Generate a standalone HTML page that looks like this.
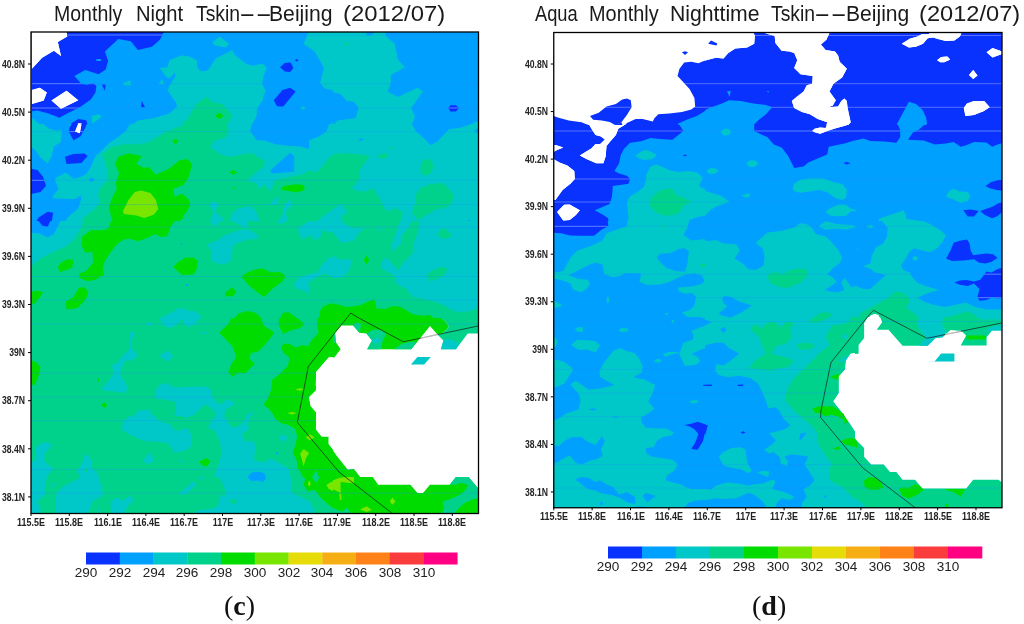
<!DOCTYPE html>
<html><head><meta charset="utf-8"><title>Tskin Beijing</title><style>
html,body{margin:0;padding:0;background:#fff}
#w{position:relative;width:1024px;height:624px;overflow:hidden;background:#fff;font-family:"Liberation Sans",sans-serif;color:#111}
.title{position:absolute;left:0;top:1px;width:1024px;height:26px;font-size:21.5px;line-height:26px;color:#1a1a1a}
.title span{position:absolute;top:0;white-space:nowrap;transform-origin:0 50%}
.xt{position:absolute;width:60px;text-align:center;font-size:10.8px;line-height:12px;font-weight:bold;color:#222;white-space:nowrap;transform:scaleX(0.83);transform-origin:50% 50%}
.yt{position:absolute;width:60px;text-align:right;font-size:10.8px;line-height:12px;font-weight:bold;color:#222;white-space:nowrap;transform:scaleX(0.8);transform-origin:100% 50%}
.bl{position:absolute;width:40px;text-align:center;font-size:12px;line-height:14px;color:#222;transform:scaleX(1.13)}
.cap{position:absolute;font-family:"Liberation Serif",serif;font-weight:bold;font-size:28px;line-height:30px;color:#111;white-space:nowrap}
.cap span{font-weight:normal}
</style></head><body><div id="w">
<svg width="1024" height="624" viewBox="0 0 1024 624" style="position:absolute;left:0;top:0">
<rect width="1024" height="624" fill="#fff"/>
<clipPath id="lf"><rect x="31" y="32" width="447.5" height="481.5"/></clipPath>
<g clip-path="url(#lf)">
<clipPath id="lt0"><rect x="31" y="32" width="152" height="92"/></clipPath>
<g clip-path="url(#lt0)">
<rect x="30" y="31" width="154" height="94" fill="#00a0ff"/>
<polygon points="31.9,31.9 163.8,31.9 159.9,39.8 152.0,46.8 137.9,50.0 130.8,41.3 118.3,39.0 104.9,51.5 108.1,61.0 105.7,69.6 98.6,74.3 85.3,70.1 74.3,75.9 81.4,83.7 86.9,84.8 93.1,82.9 96.3,86.1 95.5,92.4 90.8,99.4 79.8,107.3 67.2,113.6 59.4,117.8 48.4,113.6 37.4,110.4 31.9,111.2" fill="#0a32ff"/>
<polygon points="101.8,84.5 105.7,84.5 104.9,90.8" fill="#0a32ff"/>
<polygon points="141.8,101.0 145.0,107.3 141.0,107.3" fill="#0a32ff"/>
<polygon points="96.3,59.1 101.0,59.1 101.0,61.0 96.3,61.0" fill="#00a0ff"/>
<polygon points="188.0,54.7 181.1,55.5 169.3,60.2 167.7,67.2 159.9,68.0 166.1,76.7 169.3,78.2 174.8,72.7 175.6,75.9 169.3,86.1 167.7,90.8 175.6,101.8 177.1,106.5 169.3,113.6 153.6,118.3 137.9,120.6 128.5,126.9 188.0,126.9" fill="#00c8c8"/>
<polygon points="177.1,126.9 188.0,119.8 188.0,126.9" fill="#00d28c"/>
<polygon points="31.9,118.3 37.4,122.2 40.6,126.9 31.9,126.9" fill="#00c8c8"/>
<polygon points="91.6,115.9 98.6,114.3 101.8,116.7 92.4,123.8" fill="#00c8c8"/>
<polygon points="123.0,82.9 130.0,80.6 131.6,85.3 123.8,85.3" fill="#00c8c8"/>
<polygon points="158.3,83.7 162.2,79.8 164.6,84.8" fill="#00c8c8"/>
<polygon points="69.6,124.5 78.2,119.1 86.1,120.3 88.4,126.9 69.6,126.9" fill="#0a32ff"/>
<polygon points="31.9,31.9 66.5,31.9 67.2,36.6 57.8,42.1 61.0,55.9 53.9,50.8 42.1,57.8 31.9,68.8" fill="#ffffff"/>
<polygon points="31.9,90.0 39.8,87.7 46.8,92.4 43.7,100.5 31.9,104.1" fill="#ffffff"/>
<polygon points="51.5,100.5 66.5,90.8 78.2,100.2 61.0,108.8" fill="#ffffff"/>
<polygon points="77.9,123.4 81.4,123.4 81.4,126.9 77.9,126.9" fill="#ffffff"/>
<g stroke="#1e90ff" stroke-opacity="0.38" stroke-width="0.8"><line x1="30" x2="184" y1="35" y2="35"/><line x1="30" x2="184" y1="83.7" y2="83.7"/><line x1="30" x2="184" y1="108" y2="108"/></g>
<clipPath id="lt0b"><polygon points="31.9,31.9 163.8,31.9 159.9,39.8 152.0,46.8 137.9,50.0 130.8,41.3 118.3,39.0 104.9,51.5 108.1,61.0 105.7,69.6 98.6,74.3 85.3,70.1 74.3,75.9 81.4,83.7 86.9,84.8 93.1,82.9 96.3,86.1 95.5,92.4 90.8,99.4 79.8,107.3 67.2,113.6 59.4,117.8 48.4,113.6 37.4,110.4 31.9,111.2"/><polygon points="101.8,84.5 105.7,84.5 104.9,90.8"/><polygon points="141.8,101.0 145.0,107.3 141.0,107.3"/><polygon points="69.6,124.5 78.2,119.1 86.1,120.3 88.4,126.9 69.6,126.9"/></clipPath>
<g clip-path="url(#lt0b)" stroke="#b4beff" stroke-opacity="0.55" stroke-width="0.8"><line x1="30" x2="184" y1="35" y2="35"/><line x1="30" x2="184" y1="83.7" y2="83.7"/><line x1="30" x2="184" y1="108" y2="108"/></g>
<polygon points="31.9,31.9 66.5,31.9 67.2,36.6 57.8,42.1 61.0,55.9 53.9,50.8 42.1,57.8 31.9,68.8" fill="#ffffff"/>
<polygon points="31.9,90.0 39.8,87.7 46.8,92.4 43.7,100.5 31.9,104.1" fill="#ffffff"/>
<polygon points="51.5,100.5 66.5,90.8 78.2,100.2 61.0,108.8" fill="#ffffff"/>
<polygon points="77.9,123.4 81.4,123.4 81.4,126.9 77.9,126.9" fill="#ffffff"/>
</g>
<clipPath id="lt1"><rect x="183" y="32" width="150" height="92"/></clipPath>
<g clip-path="url(#lt1)">
<rect x="182" y="31" width="152" height="94" fill="#00a0ff"/>
<polygon points="171.7,55.5 189.0,56.3 196.8,60.2 197.6,68.0 201.5,71.6 207.8,70.4 215.7,58.6 228.2,52.3 232.2,49.7 234.5,54.7 245.5,63.3 251.8,65.7 262.8,63.8 266.7,68.0 263.6,75.9 262.0,83.7 265.9,91.6 263.6,94.7 262.8,100.2 257.3,108.1 256.5,115.9 250.2,128.5 171.7,128.5" fill="#00c8c8"/>
<polygon points="212.2,42.9 219.6,36.6 229.0,43.7 225.9,47.6 214.9,45.3" fill="#00c8c8"/>
<polygon points="309.1,31.1 303.6,43.7 314.6,51.5 320.1,61.0 324.0,68.0 320.1,82.9 324.8,88.4 339.7,91.6 339.7,31.1" fill="#00c8c8"/>
<polygon points="327.9,128.5 332.6,122.2 339.7,119.4 339.7,128.5" fill="#00c8c8"/>
<polygon points="300.4,107.3 303.6,106.2 305.9,108.1 302.8,109.9" fill="#00c8c8"/>
<polygon points="180.4,67.2 182.7,66.5 183.5,68.0 181.1,68.8" fill="#00a0ff"/>
<polygon points="280.0,67.2 284.8,62.9 290.7,62.5 293.4,68.0 290.2,72.0 284.8,71.6" fill="#0a32ff"/>
<polygon points="294.5,60.2 297.0,59.1 298.6,60.2 296.5,61.4" fill="#0a32ff"/>
<polygon points="273.8,100.2 282.4,90.0 290.2,87.7 295.7,91.6 283.2,106.5 276.9,106.2" fill="#0a32ff"/>
<polygon points="171.7,128.5 187.4,119.8 195.3,104.9 206.3,97.1 211.8,101.8 222.7,104.6 228.2,109.6 232.2,115.9 225.1,128.5" fill="#00d28c"/>
<polygon points="214.9,115.9 219.6,112.5 223.5,115.9 219.6,119.1" fill="#00dc00"/>
<g stroke="#1e90ff" stroke-opacity="0.38" stroke-width="0.8"><line x1="182" x2="334" y1="35" y2="35"/><line x1="182" x2="334" y1="83.7" y2="83.7"/><line x1="182" x2="334" y1="108" y2="108"/></g>
<clipPath id="lt1b"><polygon points="280.0,67.2 284.8,62.9 290.7,62.5 293.4,68.0 290.2,72.0 284.8,71.6"/><polygon points="294.5,60.2 297.0,59.1 298.6,60.2 296.5,61.4"/><polygon points="273.8,100.2 282.4,90.0 290.2,87.7 295.7,91.6 283.2,106.5 276.9,106.2"/></clipPath>
<g clip-path="url(#lt1b)" stroke="#b4beff" stroke-opacity="0.55" stroke-width="0.8"><line x1="182" x2="334" y1="35" y2="35"/><line x1="182" x2="334" y1="83.7" y2="83.7"/><line x1="182" x2="334" y1="108" y2="108"/></g>
</g>
<clipPath id="lt2"><rect x="333" y="32" width="146" height="92"/></clipPath>
<g clip-path="url(#lt2)">
<rect x="332" y="31" width="148" height="94" fill="#00a0ff"/>
<polygon points="321.7,31.1 385.3,31.1 385.3,35.8 394.7,43.7 397.9,59.4 404.9,67.2 390.8,75.1 390.8,83.7 387.7,91.6 397.9,97.1 417.5,87.7 423.0,91.6 411.2,108.1 415.1,116.7 409.6,128.5 331.1,128.5 337.4,120.6 355.5,118.3 358.6,108.1 353.9,101.8 346.8,101.0 340.6,93.9 321.7,90.0" fill="#00c8c8"/>
<polygon points="364.9,31.1 375.1,31.1 372.0,35.1 367.2,35.8" fill="#00a0ff"/>
<polygon points="344.5,43.7 346.8,42.1 349.2,43.7 346.8,45.6" fill="#00d28c"/>
<polygon points="448.1,108.1 450.4,105.2 455.9,105.2 459.1,108.1 455.9,111.5 450.4,111.5" fill="#0a32ff"/>
<polygon points="469.3,128.5 474.0,122.2 479.5,121.4 479.5,128.5" fill="#00c8c8"/>
<g stroke="#1e90ff" stroke-opacity="0.38" stroke-width="0.8"><line x1="332" x2="480" y1="35" y2="35"/><line x1="332" x2="480" y1="83.7" y2="83.7"/><line x1="332" x2="480" y1="108" y2="108"/></g>
<clipPath id="lt2b"><polygon points="448.1,108.1 450.4,105.2 455.9,105.2 459.1,108.1 455.9,111.5 450.4,111.5"/></clipPath>
<g clip-path="url(#lt2b)" stroke="#b4beff" stroke-opacity="0.55" stroke-width="0.8"><line x1="332" x2="480" y1="35" y2="35"/><line x1="332" x2="480" y1="83.7" y2="83.7"/><line x1="332" x2="480" y1="108" y2="108"/></g>
</g>
<clipPath id="lt3"><rect x="31" y="124" width="152" height="97"/></clipPath>
<g clip-path="url(#lt3)">
<rect x="30" y="123" width="154" height="99" fill="#00a0ff"/>
<polygon points="29.6,121.4 40.6,121.4 48.4,128.5 56.3,130.8 61.8,130.1 61.0,141.8 53.9,146.5 51.5,156.8 47.6,163.5 39.8,156.8 35.1,149.7 29.6,146.5" fill="#00c8c8"/>
<polygon points="131.6,121.4 126.1,130.8 115.9,138.7 109.6,142.6 101.8,150.5 95.5,156.0 90.8,167.0 86.1,174.0 79.8,177.2 73.5,178.7 65.7,172.5 54.7,178.7 58.6,188.9 52.3,196.8 53.9,198.4 75.1,199.1 80.6,195.2 81.4,198.4 78.2,208.6 68.0,217.2 64.1,223.5 189.7,223.5 189.7,121.4" fill="#00c8c8"/>
<polygon points="88.4,179.8 91.6,177.2 94.7,179.8 91.6,182.3" fill="#00a0ff"/>
<polygon points="29.6,168.5 37.4,170.1 42.9,176.4 46.1,185.8 40.6,192.1 29.6,194.4" fill="#0a32ff"/>
<polygon points="64.9,156.8 73.5,154.1 84.5,153.6 87.7,156.0 81.4,163.0 66.5,164.1" fill="#0a32ff"/>
<polygon points="69.6,127.7 73.5,121.4 87.7,121.4 85.3,127.7 80.6,136.3 73.5,140.6 68.8,131.6" fill="#0a32ff"/>
<polygon points="34.3,223.5 39.0,217.2 47.6,211.7 53.1,212.8 51.5,223.5" fill="#0a32ff"/>
<polygon points="189.7,123.0 178.7,126.9 166.1,131.6 155.9,137.9 148.9,142.6 137.9,144.2 123.8,144.2 112.8,146.5 101.8,154.4 105.7,163.8 107.3,170.1 106.5,181.1 100.2,188.1 97.9,194.4 100.2,201.5 93.9,210.1 84.5,217.2 79.8,223.5 189.7,223.5" fill="#00d28c"/>
<polygon points="118.3,156.8 128.5,153.6 141.8,156.0 136.3,164.1 143.4,167.7 148.9,167.0 155.9,174.8 169.3,168.5 178.7,160.7 189.7,159.1 189.7,185.0 181.1,185.8 173.2,188.9 174.8,196.8 181.8,193.6 189.7,199.9 189.7,211.7 177.1,223.5 113.6,223.5 111.2,217.2 108.8,206.2 112.8,196.8 116.7,188.9 115.9,182.7 119.1,173.2 115.1,163.8" fill="#00dc00"/>
<polygon points="172.4,140.3 175.6,138.7 177.9,140.6 175.6,145.0" fill="#00dc00"/>
<polygon points="128.5,199.9 134.8,192.1 141.0,190.5 150.4,192.9 155.9,199.9 158.3,209.3 153.6,214.8 144.2,218.0 136.3,215.6 123.8,214.1 123.0,210.9" fill="#78e600"/>
<polygon points="75.1,131.6 78.2,123.8 81.4,124.6 79.8,133.2" fill="#ffffff"/>
<g stroke="#1e90ff" stroke-opacity="0.38" stroke-width="0.8"><line x1="30" x2="184" y1="131.6" y2="131.6"/><line x1="30" x2="184" y1="180.3" y2="180.3"/><line x1="30" x2="184" y1="204.6" y2="204.6"/></g>
<clipPath id="lt3b"><polygon points="29.6,168.5 37.4,170.1 42.9,176.4 46.1,185.8 40.6,192.1 29.6,194.4"/><polygon points="64.9,156.8 73.5,154.1 84.5,153.6 87.7,156.0 81.4,163.0 66.5,164.1"/><polygon points="69.6,127.7 73.5,121.4 87.7,121.4 85.3,127.7 80.6,136.3 73.5,140.6 68.8,131.6"/><polygon points="34.3,223.5 39.0,217.2 47.6,211.7 53.1,212.8 51.5,223.5"/></clipPath>
<g clip-path="url(#lt3b)" stroke="#b4beff" stroke-opacity="0.55" stroke-width="0.8"><line x1="30" x2="184" y1="131.6" y2="131.6"/><line x1="30" x2="184" y1="180.3" y2="180.3"/><line x1="30" x2="184" y1="204.6" y2="204.6"/></g>
<polygon points="75.1,131.6 78.2,123.8 81.4,124.6 79.8,133.2" fill="#ffffff"/>
</g>
<clipPath id="lt4"><rect x="183" y="124" width="150" height="97"/></clipPath>
<g clip-path="url(#lt4)">
<rect x="182" y="123" width="152" height="99" fill="#00d28c"/>
<polygon points="225.9,121.4 229.0,131.6 225.1,137.9 214.9,140.3 210.2,147.3 222.0,155.2 229.8,156.8 240.8,154.4 251.8,153.1 259.6,158.3 265.1,160.7 263.6,167.0 254.9,173.2 247.1,180.3 256.5,183.4 259.6,188.9 264.3,184.2 270.6,191.3 274.5,180.3 287.9,177.2 302.0,174.8 309.9,170.1 316.1,172.5 322.4,166.2 329.5,156.8 339.7,152.8 339.7,121.4" fill="#00c8c8"/>
<polygon points="251.8,121.4 250.2,131.6 256.5,140.3 264.3,140.6 275.3,144.2 287.9,145.8 300.4,146.5 309.1,148.9 309.1,140.3 319.3,136.3 326.4,131.6 330.3,121.4" fill="#00a0ff"/>
<polygon points="269.8,170.9 278.5,163.0 290.2,152.8 294.2,156.0 294.2,171.7 272.2,173.5" fill="#00a0ff"/>
<polygon points="208.6,223.5 214.1,212.8 209.4,204.6 214.1,201.5 218.8,204.6 214.9,210.9 222.0,217.2 226.7,223.5" fill="#00c8c8"/>
<polygon points="229.0,223.5 231.4,214.1 237.7,208.6 245.5,207.0 251.8,206.2 256.5,212.5 259.6,220.3 261.2,223.5" fill="#00c8c8"/>
<polygon points="269.8,204.6 276.9,196.0 278.5,197.6 276.9,204.6" fill="#00c8c8"/>
<polygon points="276.1,223.5 282.4,215.6 284.8,204.6 290.2,199.1 291.8,204.6 285.5,212.5 287.9,218.8 289.5,223.5" fill="#00c8c8"/>
<polygon points="314.6,223.5 325.6,214.1 339.7,205.4 339.7,223.5" fill="#00c8c8"/>
<polygon points="176.4,161.5 182.7,159.1 188.2,159.4 192.1,164.6 189.8,173.2 187.4,180.3 182.7,185.0 176.4,186.6" fill="#00dc00"/>
<polygon points="176.4,196.0 181.9,193.6 188.2,199.1 190.2,204.6 187.4,210.9 182.7,216.4 176.4,218.8" fill="#00dc00"/>
<polygon points="229.5,172.5 232.9,170.1 237.3,172.5 232.9,174.8" fill="#00dc00"/>
<polygon points="231.4,188.1 236.1,187.4 233.7,189.2" fill="#00dc00"/>
<polygon points="280.8,188.1 284.8,185.8 294.2,184.5 302.0,184.5 305.2,188.1 302.8,190.5 296.5,192.4 287.9,190.8 282.4,190.2" fill="#00dc00"/>
<g stroke="#1e90ff" stroke-opacity="0.38" stroke-width="0.8"><line x1="182" x2="334" y1="131.6" y2="131.6"/><line x1="182" x2="334" y1="180.3" y2="180.3"/><line x1="182" x2="334" y1="204.6" y2="204.6"/></g>
</g>
<clipPath id="lt5"><rect x="333" y="124" width="146" height="97"/></clipPath>
<g clip-path="url(#lt5)">
<rect x="332" y="123" width="148" height="99" fill="#00c8c8"/>
<polygon points="410.4,121.4 415.9,131.6 423.8,137.9 430.8,145.3 437.9,141.1 445.0,133.2 448.9,129.3 459.9,127.7 470.1,124.6 473.2,121.4" fill="#00a0ff"/>
<polygon points="474.0,130.8 478.7,127.7 478.7,134.0" fill="#00a0ff"/>
<polygon points="358.6,139.5 361.0,137.9 363.8,139.5 361.0,141.1" fill="#00a0ff"/>
<polygon points="326.4,156.8 332.7,153.6 348.4,153.6 362.5,154.4 370.1,156.0 364.1,163.8 358.6,171.7 360.2,179.5 351.5,188.1 357.8,191.3 367.2,191.3 372.7,188.1 378.2,196.0 382.2,203.8 386.1,210.9 397.1,208.6 403.0,212.5 401.0,223.5 340.6,223.5 342.1,215.6 347.6,212.5 341.3,203.8 335.1,207.8 326.4,208.6" fill="#00d28c"/>
<polygon points="375.1,156.0 386.1,152.8 387.7,156.8 383.7,159.1" fill="#00d28c"/>
<polygon points="390.0,147.8 392.1,146.2 393.6,148.1 391.6,150.0" fill="#00d28c"/>
<polygon points="420.6,166.2 423.0,159.9 428.5,158.8 432.4,162.2 433.2,167.7 430.8,173.2 425.3,175.6 420.6,172.9" fill="#00d28c"/>
<polygon points="415.1,195.2 420.6,188.1 430.0,184.2 443.4,183.0 448.9,188.9 454.4,196.0 450.4,205.4 443.4,208.6 436.3,209.3 428.5,214.1 417.5,220.3 412.0,212.5 415.1,203.1" fill="#00d28c"/>
<polygon points="466.9,221.0 469.3,219.5 470.9,221.9" fill="#00a0ff"/>
<g stroke="#1e90ff" stroke-opacity="0.38" stroke-width="0.8"><line x1="332" x2="480" y1="131.6" y2="131.6"/><line x1="332" x2="480" y1="180.3" y2="180.3"/><line x1="332" x2="480" y1="204.6" y2="204.6"/></g>
</g>
<clipPath id="lt6"><rect x="31" y="221" width="152" height="97"/></clipPath>
<g clip-path="url(#lt6)">
<rect x="30" y="220" width="154" height="99" fill="#00d28c"/>
<polygon points="29.6,218.4 84.5,218.4 79.8,229.4 73.5,240.4 65.7,246.7 56.3,250.6 45.3,256.1 37.4,260.8 29.6,267.1" fill="#00c8c8"/>
<polygon points="29.6,218.4 61.8,218.4 58.6,224.7 53.9,234.1 47.6,237.3 39.0,233.3 29.6,232.6" fill="#00a0ff"/>
<polygon points="36.6,218.4 51.5,218.4 47.6,227.1 42.1,225.5" fill="#0a32ff"/>
<polygon points="112.0,218.4 108.1,228.6 103.4,230.2 90.8,230.2 82.2,236.5 81.4,245.1 85.3,253.0 92.4,251.4 93.1,262.4 86.1,271.0 79.0,273.4 79.8,278.1 87.7,281.2 95.5,279.7 104.1,274.9 102.6,268.7 104.9,260.8 111.2,251.4 117.5,243.5 123.8,239.6 130.0,238.8 137.9,241.2 147.3,238.1 155.2,234.1 161.4,237.3 167.7,235.7 170.1,227.8 176.4,218.4" fill="#00dc00"/>
<polygon points="57.8,267.1 61.0,262.4 67.2,259.2 73.5,260.0 72.0,267.9 60.2,272.1" fill="#00dc00"/>
<polygon points="65.7,301.6 73.5,296.9 79.0,287.5 85.3,287.5 88.4,293.0 85.3,300.1 77.5,307.9 66.5,309.5" fill="#00dc00"/>
<polygon points="29.6,292.2 36.6,290.6 42.9,292.2 39.8,297.7 34.3,304.0 29.6,302.4" fill="#00dc00"/>
<polygon points="173.2,267.1 179.5,260.8 189.7,256.9 189.7,275.7 181.8,274.9" fill="#00dc00"/>
<polygon points="159.1,320.5 164.6,315.8 171.6,312.6 177.1,308.7 185.0,307.9 189.7,310.3 189.7,320.5" fill="#00c8c8"/>
<polygon points="180.0,244.3 181.8,243.2 182.6,245.1" fill="#00a0ff"/>
<polygon points="185.0,284.4 188.9,283.6 188.9,285.9" fill="#00c8c8"/>
<g stroke="#1e90ff" stroke-opacity="0.38" stroke-width="0.8"><line x1="30" x2="184" y1="227" y2="227"/><line x1="30" x2="184" y1="276.5" y2="276.5"/><line x1="30" x2="184" y1="300" y2="300"/></g>
<clipPath id="lt6b"><polygon points="36.6,218.4 51.5,218.4 47.6,227.1 42.1,225.5"/></clipPath>
<g clip-path="url(#lt6b)" stroke="#b4beff" stroke-opacity="0.55" stroke-width="0.8"><line x1="30" x2="184" y1="227" y2="227"/><line x1="30" x2="184" y1="276.5" y2="276.5"/><line x1="30" x2="184" y1="300" y2="300"/></g>
</g>
<clipPath id="lt7"><rect x="183" y="221" width="150" height="97"/></clipPath>
<g clip-path="url(#lt7)">
<rect x="182" y="220" width="152" height="99" fill="#00d28c"/>
<polygon points="208.6,218.4 224.3,218.4 214.1,227.1" fill="#00c8c8"/>
<polygon points="229.0,218.4 248.6,218.4 246.3,228.6 237.7,223.9" fill="#00c8c8"/>
<polygon points="254.9,218.4 260.4,218.4 258.1,222.4" fill="#00c8c8"/>
<polygon points="275.3,218.4 288.7,218.4 283.2,223.9 277.7,222.8" fill="#00c8c8"/>
<polygon points="207.0,244.3 217.2,240.4 225.1,234.9 240.8,229.4 248.6,229.4 258.1,234.9 258.1,238.8 247.1,239.6 232.9,245.1 232.2,253.8 230.6,261.6 223.5,264.7 217.2,263.2 211.0,260.0 211.8,252.2" fill="#00c8c8"/>
<polygon points="298.1,228.6 303.6,224.7 312.2,218.4 339.7,218.4 339.7,238.1 332.6,232.6 325.6,231.8 321.6,228.6 320.9,235.7 316.1,240.4 309.9,234.9 302.8,239.6 298.9,234.1" fill="#00c8c8"/>
<polygon points="293.4,285.1 298.9,278.1 308.3,274.2 316.9,272.6 323.2,263.2 329.5,256.9 335.0,256.9 339.7,260.8 339.7,278.1 332.6,276.5 324.0,273.4 317.7,276.5 308.3,282.8 309.9,293.5 303.6,290.6 297.3,289.1" fill="#00c8c8"/>
<polygon points="176.4,307.9 182.7,307.9 189.0,311.1 195.3,311.1 201.5,317.3 203.1,320.5 176.4,320.5" fill="#00c8c8"/>
<polygon points="176.4,261.6 184.3,257.7 193.7,257.4 197.6,260.8 196.8,268.7 193.7,274.2 182.7,275.3 176.4,273.4" fill="#00dc00"/>
<polygon points="241.6,276.5 247.1,272.6 254.9,269.5 263.6,268.4 270.6,272.6 278.5,271.8 284.0,274.2 285.5,277.3 281.6,282.0 272.2,289.1 264.3,296.9 258.1,293.0 247.9,284.4" fill="#00dc00"/>
<polygon points="224.8,293.0 232.2,287.2 236.4,292.2 232.9,296.1 225.9,296.6" fill="#00dc00"/>
<polygon points="232.9,320.5 238.4,313.4 247.1,311.1 254.9,312.6 260.4,316.5 261.2,320.5" fill="#00dc00"/>
<polygon points="278.5,320.5 283.2,312.6 289.5,312.6 295.7,317.3 297.3,320.5" fill="#00dc00"/>
<polygon points="318.5,320.5 320.1,311.1 323.2,306.3 331.1,303.2 339.7,304.0 339.7,320.5" fill="#00dc00"/>
<polygon points="179.9,244.3 181.5,243.2 182.4,244.8 180.8,245.9" fill="#00a0ff"/>
<polygon points="185.1,284.7 187.4,283.6 188.7,285.1 186.6,286.2" fill="#00a0ff"/>
<g stroke="#1e90ff" stroke-opacity="0.38" stroke-width="0.8"><line x1="182" x2="334" y1="227" y2="227"/><line x1="182" x2="334" y1="276.5" y2="276.5"/><line x1="182" x2="334" y1="300" y2="300"/></g>
</g>
<clipPath id="lt8"><rect x="333" y="221" width="146" height="97"/></clipPath>
<g clip-path="url(#lt8)">
<rect x="332" y="220" width="148" height="99" fill="#00d28c"/>
<polygon points="419.1,218.4 418.3,231.0 413.6,243.5 414.3,251.4 403.4,262.4 398.6,270.2 386.1,256.9 381.4,262.4 381.4,268.7 392.4,274.2 395.5,278.1 396.3,283.6 406.5,289.1 412.8,296.9 422.2,298.5 434.8,301.6 444.2,305.6 453.6,311.1 461.4,312.6 472.4,310.3 479.5,307.9 479.5,218.4" fill="#00c8c8"/>
<polygon points="401.0,218.4 397.1,229.4 391.6,245.1 390.8,253.0 396.3,247.5 401.8,243.5 401.0,236.5 408.1,228.6 413.6,218.4" fill="#00c8c8"/>
<polygon points="326.4,218.4 340.6,218.4 345.3,224.7 353.9,228.6 364.1,227.8 359.4,232.6 353.9,240.4 341.3,243.2 334.3,234.1 326.4,234.1" fill="#00c8c8"/>
<polygon points="326.4,256.9 334.3,256.4 341.3,260.0 347.6,258.5 352.3,261.6 348.4,271.8 342.1,277.3 334.3,278.1 326.4,274.2" fill="#00c8c8"/>
<polygon points="377.9,227.8 380.6,227.8 379.5,235.7" fill="#00c8c8"/>
<polygon points="437.1,234.9 442.6,227.5 448.1,231.0 452.0,235.7 444.2,239.6" fill="#00d28c"/>
<polygon points="426.1,275.7 432.4,270.2 443.4,266.3 447.3,269.5 442.6,276.5 430.8,281.2" fill="#00d28c"/>
<polygon points="363.8,260.0 366.5,255.3 369.3,260.0 366.5,264.3" fill="#00dc00"/>
<polygon points="326.4,305.6 335.8,304.0 346.8,307.1 359.4,305.6 373.5,299.3 375.1,301.6 376.7,308.7 386.1,308.7 392.4,306.0 400.2,306.7 412.8,314.2 422.2,315.8 430.0,315.0 436.3,320.5 326.4,320.5" fill="#00dc00"/>
<polygon points="467.7,220.8 469.3,220.0 470.1,221.6" fill="#00a0ff"/>
<g stroke="#1e90ff" stroke-opacity="0.38" stroke-width="0.8"><line x1="332" x2="480" y1="227" y2="227"/><line x1="332" x2="480" y1="276.5" y2="276.5"/><line x1="332" x2="480" y1="300" y2="300"/></g>
</g>
<clipPath id="lt9"><rect x="31" y="318" width="152" height="98"/></clipPath>
<g clip-path="url(#lt9)">
<rect x="30" y="317" width="154" height="100" fill="#00d28c"/>
<polygon points="158.3,315.4 162.2,324.1 169.3,328.8 177.1,324.1 182.6,319.4 186.6,325.6 189.7,326.4 189.7,315.4" fill="#00c8c8"/>
<polygon points="146.5,324.1 149.2,321.4 152.0,324.1 149.2,326.4" fill="#00c8c8"/>
<polygon points="129.3,332.7 135.5,331.9 131.6,339.8 130.8,348.4 136.3,352.3 137.1,356.2 133.2,359.4 123.8,361.7 120.6,371.2 119.8,373.5 125.3,382.9 128.5,389.2 123.8,393.1 115.9,391.6 106.5,390.8 101.0,389.2 106.5,382.9 113.6,374.3 112.0,365.7 118.3,361.7 122.2,356.2 128.5,350.0 130.0,340.5" fill="#00c8c8"/>
<polygon points="159.6,355.9 166.9,350.3 173.2,356.2 167.7,361.7" fill="#00c8c8"/>
<polygon points="155.2,390.8 159.9,384.5 166.1,382.9 174.8,387.6 182.6,386.9 189.7,389.2 189.7,417.5 174.0,417.5 176.4,408.1 174.8,401.8 164.6,399.4 155.9,398.6" fill="#00c8c8"/>
<polygon points="132.4,417.5 137.9,410.4 148.9,409.6 153.6,415.9 155.2,417.5" fill="#00c8c8"/>
<polygon points="29.6,360.2 35.8,361.7 40.6,367.2 39.0,375.1 35.1,384.5 29.6,385.3" fill="#00dc00"/>
<polygon points="96.6,379.8 98.3,378.5 99.4,381.1 97.5,382.1" fill="#00dc00"/>
<polygon points="101.0,404.9 104.6,402.1 107.3,405.2 104.6,408.1" fill="#00dc00"/>
<polygon points="90.5,316.2 93.1,316.2 91.9,320.1" fill="#00c8c8"/>
<g stroke="#1e90ff" stroke-opacity="0.38" stroke-width="0.8"><line x1="30" x2="184" y1="324" y2="324"/><line x1="30" x2="184" y1="373.2" y2="373.2"/><line x1="30" x2="184" y1="397" y2="397"/></g>
</g>
<clipPath id="lt10"><rect x="183" y="318" width="150" height="68"/></clipPath>
<g clip-path="url(#lt10)">
<rect x="182" y="317" width="152" height="70" fill="#00d28c"/>
<polygon points="176.4,315.4 202.3,315.4 195.3,324.1 188.2,327.2 182.7,321.7 176.4,323.3" fill="#00c8c8"/>
<polygon points="200.0,332.4 207.0,331.9 207.0,333.5 200.0,333.5" fill="#00c8c8"/>
<polygon points="176.4,388.4 185.8,386.9 198.4,386.9 209.4,388.4 211.8,392.4 211.0,397.8 219.6,405.7 228.2,398.6 232.9,400.2 236.1,405.7 225.1,410.4 222.7,417.5 176.4,417.5" fill="#00c8c8"/>
<polygon points="192.9,417.5 201.5,406.5 208.6,404.1 214.9,410.4 218.0,417.5" fill="#00d28c"/>
<polygon points="245.5,417.5 251.0,412.0 254.9,417.5" fill="#00c8c8"/>
<polygon points="232.9,315.4 228.2,324.1 219.1,332.7 232.2,346.0 236.1,357.0 231.4,364.1 228.2,371.9 232.2,376.7 238.4,372.7 245.5,373.5 251.0,367.2 254.9,364.1 249.4,358.6 251.0,353.1 258.1,351.5 265.9,343.7 274.5,332.7 263.6,325.6 260.4,315.4" fill="#00dc00"/>
<polygon points="279.3,315.4 278.5,324.8 283.2,334.0 291.0,330.3 300.4,328.0 304.4,324.1 298.9,319.4 295.0,315.4" fill="#00dc00"/>
<polygon points="317.7,315.4 316.9,324.8 318.5,332.7 311.4,340.5 308.3,346.0 302.0,345.3 295.7,347.6 289.5,343.7 283.2,343.7 280.8,348.4 284.8,353.9 289.5,357.8 287.9,365.7 278.5,375.1 272.2,379.8 271.4,389.2 268.3,397.1 263.6,404.9 267.5,409.6 272.2,412.8 273.8,417.5 339.7,417.5 339.7,315.4" fill="#00dc00"/>
<polygon points="295.4,389.2 298.9,388.0 304.4,388.9 299.7,390.5" fill="#78e600"/>
<polygon points="287.9,412.4 292.6,411.5 297.3,412.4 292.6,413.7" fill="#78e600"/>
<polygon points="339.7,329.6 335.8,332.7 335.8,340.5 339.7,343.7" fill="#ffffff"/>
<polygon points="339.7,357.0 328.7,357.5 316.1,371.9 315.8,388.4 309.1,397.1 310.7,404.9 316.1,412.8 316.1,417.5 339.7,417.5" fill="#ffffff"/>
<g stroke="#1e90ff" stroke-opacity="0.38" stroke-width="0.8"><line x1="182" x2="334" y1="324" y2="324"/><line x1="182" x2="334" y1="373.2" y2="373.2"/></g>
<polygon points="339.7,329.6 335.8,332.7 335.8,340.5 339.7,343.7" fill="#ffffff"/>
<polygon points="339.7,357.0 328.7,357.5 316.1,371.9 315.8,388.4 309.1,397.1 310.7,404.9 316.1,412.8 316.1,417.5 339.7,417.5" fill="#ffffff"/>
</g>
<clipPath id="lt11"><rect x="333" y="318" width="146" height="98"/></clipPath>
<g clip-path="url(#lt11)">
<rect x="332" y="317" width="148" height="100" fill="#ffffff"/>
<polygon points="326.4,315.4 437.9,315.4 445.7,321.7 448.9,326.4 444.2,331.9 437.9,335.1 430.0,326.1 422.2,335.8 411.2,349.2 367.2,349.2 372.0,340.5 366.5,333.5 359.4,332.7 353.1,325.6 341.3,325.6 335.1,332.7 335.8,342.1 340.6,349.2 334.3,357.5 326.4,357.5" fill="#00dc00"/>
<polygon points="436.3,315.4 445.7,321.7 448.9,326.4 444.2,331.9 437.9,335.1 443.4,340.5 441.0,349.2 455.9,349.2 467.7,333.5 479.5,333.5 479.5,315.4" fill="#00d28c"/>
<polygon points="443.4,340.5 447.3,339.0 453.6,340.5 459.1,343.7 455.9,349.2 441.0,349.2" fill="#00c8c8"/>
<polygon points="367.2,349.2 372.0,340.5 366.5,333.5 373.5,329.6 381.4,330.3 386.1,334.3 382.9,340.5 380.6,349.2" fill="#00d28c"/>
<polygon points="372.0,340.5 375.1,337.4 379.8,339.0 378.2,342.9 373.5,343.7" fill="#00c8c8"/>
<polygon points="393.9,349.2 401.8,343.7 409.6,342.1 416.7,342.1 411.2,349.2" fill="#00d28c"/>
<polygon points="353.1,325.6 355.5,322.5 360.2,323.3 361.0,326.4 359.4,332.7" fill="#00d28c"/>
<polygon points="410.9,364.6 417.5,357.0 430.8,357.0 424.1,364.6" fill="#00c8c8"/>
<polygon points="326.4,340.5 335.1,333.5 335.8,342.1 332.7,343.7 326.4,342.9" fill="#00d28c"/>
<clipPath id="lt11c"><polygon points="326.4,315.4 437.9,315.4 445.7,321.7 448.9,326.4 444.2,331.9 437.9,335.1 430.0,326.1 422.2,335.8 411.2,349.2 367.2,349.2 372.0,340.5 366.5,333.5 359.4,332.7 353.1,325.6 341.3,325.6 335.1,332.7 335.8,342.1 340.6,349.2 334.3,357.5 326.4,357.5"/><polygon points="436.3,315.4 445.7,321.7 448.9,326.4 444.2,331.9 437.9,335.1 443.4,340.5 441.0,349.2 455.9,349.2 467.7,333.5 479.5,333.5 479.5,315.4"/><polygon points="443.4,340.5 447.3,339.0 453.6,340.5 459.1,343.7 455.9,349.2 441.0,349.2"/><polygon points="367.2,349.2 372.0,340.5 366.5,333.5 373.5,329.6 381.4,330.3 386.1,334.3 382.9,340.5 380.6,349.2"/><polygon points="372.0,340.5 375.1,337.4 379.8,339.0 378.2,342.9 373.5,343.7"/><polygon points="393.9,349.2 401.8,343.7 409.6,342.1 416.7,342.1 411.2,349.2"/><polygon points="353.1,325.6 355.5,322.5 360.2,323.3 361.0,326.4 359.4,332.7"/><polygon points="410.9,364.6 417.5,357.0 430.8,357.0 424.1,364.6"/><polygon points="326.4,340.5 335.1,333.5 335.8,342.1 332.7,343.7 326.4,342.9"/></clipPath>
<g clip-path="url(#lt11c)" stroke="#1e90ff" stroke-opacity="0.38" stroke-width="0.8"><line x1="332" x2="480" y1="324" y2="324"/><line x1="332" x2="480" y1="373.2" y2="373.2"/><line x1="332" x2="480" y1="397" y2="397"/></g>
</g>
<clipPath id="lt12"><rect x="31" y="416" width="152" height="97.5"/></clipPath>
<g clip-path="url(#lt12)">
<rect x="30" y="415" width="154" height="99.5" fill="#00d28c"/>
<polygon points="130.8,414.4 123.0,422.3 121.4,429.3 130.0,434.8 144.2,441.1 158.3,441.9 167.7,442.7 174.8,452.9 189.7,449.0 189.7,427.8 175.6,430.9 169.3,423.8 158.3,420.7 153.6,414.4" fill="#00c8c8"/>
<polygon points="178.7,414.4 189.7,414.4 189.7,417.6 183.4,417.3" fill="#00c8c8"/>
<polygon points="29.6,463.1 35.1,460.0 35.8,447.4 42.1,442.7 46.8,441.9 52.3,445.0 44.5,453.7 44.5,461.5 53.1,468.6 46.8,476.4 44.5,489.8 45.3,494.5 37.4,501.6 41.3,510.2 37.4,514.9 29.6,514.9" fill="#00c8c8"/>
<polygon points="85.3,452.9 92.4,460.7 91.6,468.6 97.1,471.7 100.2,481.9 102.6,491.4 102.6,496.1 92.4,501.6 87.7,514.1 56.3,514.1 55.5,499.2 57.0,491.4 65.7,485.1 79.8,478.0 77.5,470.2 82.2,463.1" fill="#00c8c8"/>
<polygon points="83.7,469.4 86.1,467.5 88.9,469.4 86.4,472.2" fill="#00d28c"/>
<polygon points="111.2,514.9 110.4,501.6 117.5,497.6 123.0,500.8 130.0,495.3 134.8,501.6 130.0,503.1 125.3,510.2 126.9,514.9" fill="#00c8c8"/>
<polygon points="142.6,461.5 149.7,452.1 154.4,460.7 148.9,463.9" fill="#00c8c8"/>
<polygon points="51.2,485.1 53.1,482.7 54.7,485.1 53.1,487.4" fill="#00c8c8"/>
<polygon points="179.5,460.7 181.5,459.2 183.1,461.2 181.1,462.8" fill="#00c8c8"/>
<polygon points="97.1,508.6 99.4,507.8 99.4,511.8 97.1,511.8" fill="#00c8c8"/>
<polygon points="179.5,492.9 189.7,488.2 189.7,494.5 182.6,495.3" fill="#00c8c8"/>
<g stroke="#1e90ff" stroke-opacity="0.38" stroke-width="0.8"><line x1="30" x2="184" y1="420.7" y2="420.7"/><line x1="30" x2="184" y1="469.4" y2="469.4"/><line x1="30" x2="184" y1="493.2" y2="493.2"/></g>
</g>
<clipPath id="lt13"><rect x="183" y="386" width="150" height="84"/></clipPath>
<g clip-path="url(#lt13)">
<rect x="182" y="385" width="152" height="86" fill="#00d28c"/>
<polygon points="176.4,387.1 206.3,386.6 211.0,389.4 211.0,395.7 219.6,405.1 228.2,398.8 235.3,404.3 225.1,409.8 224.3,416.1 229.8,425.5 233.7,427.9 240.8,424.7 245.5,419.2 247.1,413.8 254.1,412.2 248.6,419.2 247.1,425.5 249.4,428.7 241.6,434.2 245.5,442.0 251.8,440.4 255.7,444.4 254.9,452.2 254.1,460.1 262.8,462.4 270.6,458.5 278.5,462.4 287.9,467.9 291.0,480.5 215.7,480.5 217.2,469.5 222.0,452.2 219.6,441.2 215.7,431.8 207.8,427.1 216.5,413.8 212.5,409.0 205.5,404.3 198.4,410.6 193.7,415.3 185.8,417.7 176.4,416.4" fill="#00c8c8"/>
<polygon points="176.4,428.7 184.3,427.9 189.0,429.5 192.1,438.1 191.3,445.9 185.8,450.6 176.4,452.2" fill="#00c8c8"/>
<polygon points="278.5,437.3 283.5,434.2 287.6,438.1 283.5,442.5" fill="#00c8c8"/>
<polygon points="179.9,460.8 181.5,459.3 182.7,461.3 181.1,462.4" fill="#00a0ff"/>
<polygon points="275.6,453.0 277.2,451.4 278.5,453.5 276.9,455.0" fill="#00a0ff"/>
<polygon points="247.1,477.3 251.0,472.6 259.6,471.8 264.3,473.4 265.1,480.5 247.1,480.5" fill="#00a0ff"/>
<polygon points="199.2,461.6 206.3,458.2 210.5,460.8 207.0,466.7 201.5,464.8" fill="#00dc00"/>
<polygon points="272.2,378.4 271.4,389.4 268.3,397.3 263.6,405.1 268.3,408.3 272.2,413.0 276.1,420.0 281.6,423.2 287.9,424.7 295.0,428.7 297.3,436.5 295.7,444.4 292.6,452.2 297.3,461.6 298.1,469.5 302.0,474.2 303.6,480.5 339.7,480.5 339.7,378.4" fill="#00dc00"/>
<polygon points="312.2,480.5 315.4,470.7 319.3,480.5" fill="#00d28c"/>
<polygon points="295.0,389.4 299.7,388.2 304.8,389.1 300.1,390.7" fill="#78e600"/>
<polygon points="287.1,413.0 291.8,412.0 297.0,413.0 292.3,414.5" fill="#78e600"/>
<polygon points="305.9,437.3 309.9,434.2 314.6,437.3 309.9,440.4" fill="#78e600"/>
<polygon points="300.1,453.8 303.6,449.1 309.1,453.0 305.9,458.5 303.6,466.3 302.0,460.1" fill="#78e600"/>
<polygon points="316.1,378.4 316.1,390.2 309.1,397.3 310.7,405.9 316.1,412.2 316.1,429.5 321.6,436.5 328.7,436.5 328.7,444.1 339.7,457.7 339.7,378.4" fill="#ffffff"/>
<g stroke="#1e90ff" stroke-opacity="0.38" stroke-width="0.8"><line x1="182" x2="334" y1="397" y2="397"/><line x1="182" x2="334" y1="420.7" y2="420.7"/><line x1="182" x2="334" y1="469.4" y2="469.4"/></g>
<polygon points="316.1,378.4 316.1,390.2 309.1,397.3 310.7,405.9 316.1,412.2 316.1,429.5 321.6,436.5 328.7,436.5 328.7,444.1 339.7,457.7 339.7,378.4" fill="#ffffff"/>
</g>
<clipPath id="lt14"><rect x="183" y="470" width="150" height="43.5"/></clipPath>
<g clip-path="url(#lt14)">
<rect x="182" y="469" width="152" height="45.5" fill="#00c8c8"/>
<polygon points="176.4,466.2 215.7,466.2 216.5,470.2 213.3,475.7 219.6,478.0 225.1,489.8 226.7,494.5 219.6,496.1 218.0,505.5 213.3,508.6 198.4,510.2 193.7,514.9 176.4,514.9" fill="#00d28c"/>
<polygon points="179.6,492.9 187.4,486.6 193.7,481.1 196.5,484.3 190.6,490.6 182.7,495.3" fill="#00c8c8"/>
<polygon points="197.6,477.5 206.3,476.4 203.1,478.8 199.2,479.1" fill="#00c8c8"/>
<polygon points="229.0,501.6 232.9,498.9 238.0,501.6 232.9,504.2" fill="#00d28c"/>
<polygon points="247.1,477.2 251.8,472.5 259.6,471.7 264.3,473.3 265.9,478.0 263.6,481.9 258.1,480.4 251.8,481.1" fill="#00a0ff"/>
<polygon points="287.9,466.2 290.2,475.7 291.8,485.1 291.0,492.9 298.9,496.1 309.9,501.6 314.6,510.2 313.0,514.9 339.7,514.9 339.7,466.2" fill="#00d28c"/>
<polygon points="298.1,466.2 302.0,475.7 305.2,478.8 303.6,485.1 308.3,491.4 314.6,489.8 319.3,496.1 325.6,502.3 333.4,508.6 339.7,511.8 339.7,466.2" fill="#00dc00"/>
<polygon points="312.2,477.2 315.8,470.2 319.3,478.0 315.8,482.7" fill="#00d28c"/>
<polygon points="308.0,481.9 309.9,481.1 310.7,485.1 308.3,486.3" fill="#78e600"/>
<polygon points="326.4,485.1 331.1,481.9 339.7,479.6 339.7,492.9 335.0,492.1 328.7,489.0" fill="#78e600"/>
<g stroke="#1e90ff" stroke-opacity="0.38" stroke-width="0.8"><line x1="182" x2="334" y1="469.4" y2="469.4"/><line x1="182" x2="334" y1="493.2" y2="493.2"/></g>
</g>
<clipPath id="lt15"><rect x="333" y="416" width="146" height="97.5"/></clipPath>
<g clip-path="url(#lt15)">
<rect x="332" y="415" width="148" height="99.5" fill="#ffffff"/>
<polygon points="326.4,436.4 328.8,437.2 329.6,445.8 337.4,456.8 347.6,469.4 353.9,469.1 360.2,476.9 372.7,476.9 378.2,484.8 410.4,484.8 417.5,492.9 423.0,492.9 430.0,484.8 449.7,484.8 455.9,476.9 468.5,476.9 479.5,489.8 479.5,514.9 326.4,514.9" fill="#00dc00"/>
<polygon points="449.7,484.8 455.9,476.9 468.5,476.9 479.5,489.8 479.5,497.6 473.2,499.2 464.6,503.1 458.3,508.6 453.6,514.9 440.2,514.9 444.2,508.6 442.6,501.6 452.0,498.4 461.4,493.7 466.1,489.0 467.7,485.1 461.4,482.7 455.2,484.8" fill="#00d28c"/>
<polygon points="326.4,503.9 334.3,508.6 342.1,511.8 347.6,507.1 350.0,514.9 326.4,514.9" fill="#00d28c"/>
<polygon points="326.4,482.7 339.0,478.0 345.3,476.9 353.9,476.9 353.9,483.5 340.6,481.9 340.6,492.9 334.3,489.8 326.4,487.4" fill="#78e600"/>
<polygon points="339.3,493.7 341.3,493.7 341.3,500.0 339.8,500.0" fill="#78e600"/>
<polygon points="389.7,501.6 392.4,497.6 395.5,501.6 392.4,504.7" fill="#78e600"/>
<polygon points="360.2,509.4 366.5,506.3 372.0,509.9 366.5,512.1" fill="#78e600"/>
<clipPath id="lt15c"><polygon points="326.4,436.4 328.8,437.2 329.6,445.8 337.4,456.8 347.6,469.4 353.9,469.1 360.2,476.9 372.7,476.9 378.2,484.8 410.4,484.8 417.5,492.9 423.0,492.9 430.0,484.8 449.7,484.8 455.9,476.9 468.5,476.9 479.5,489.8 479.5,514.9 326.4,514.9"/><polygon points="449.7,484.8 455.9,476.9 468.5,476.9 479.5,489.8 479.5,497.6 473.2,499.2 464.6,503.1 458.3,508.6 453.6,514.9 440.2,514.9 444.2,508.6 442.6,501.6 452.0,498.4 461.4,493.7 466.1,489.0 467.7,485.1 461.4,482.7 455.2,484.8"/><polygon points="326.4,503.9 334.3,508.6 342.1,511.8 347.6,507.1 350.0,514.9 326.4,514.9"/><polygon points="326.4,482.7 339.0,478.0 345.3,476.9 353.9,476.9 353.9,483.5 340.6,481.9 340.6,492.9 334.3,489.8 326.4,487.4"/><polygon points="339.3,493.7 341.3,493.7 341.3,500.0 339.8,500.0"/><polygon points="389.7,501.6 392.4,497.6 395.5,501.6 392.4,504.7"/><polygon points="360.2,509.4 366.5,506.3 372.0,509.9 366.5,512.1"/></clipPath>
<g clip-path="url(#lt15c)" stroke="#1e90ff" stroke-opacity="0.38" stroke-width="0.8"><line x1="332" x2="480" y1="420.7" y2="420.7"/><line x1="332" x2="480" y1="469.4" y2="469.4"/><line x1="332" x2="480" y1="493.2" y2="493.2"/></g>
</g>
</g>
<clipPath id="rf"><rect x="553.75" y="32.5" width="448.25" height="475.25"/></clipPath>
<g clip-path="url(#rf)">
<clipPath id="rt0"><rect x="553.75" y="32.5" width="151.25" height="92.5"/></clipPath>
<g clip-path="url(#rt0)">
<rect x="552.75" y="31.5" width="153.25" height="94.5" fill="#ffffff"/>
<polygon points="711.7,58.6 705.4,60.2 698.4,63.3 691.3,61.8 684.2,62.5 679.5,68.8 677.5,75.9 683.4,82.2 689.7,89.2 694.4,97.9 695.2,106.5 691.3,109.6 681.9,112.0 669.3,113.6 658.3,114.3 654.4,118.3 652.8,121.4 642.6,119.1 635.6,119.1 626.9,123.0 622.2,128.5 711.7,128.5" fill="#0a32ff"/>
<polygon points="681.9,52.3 685.0,51.2 688.1,52.3 685.0,55.0" fill="#0a32ff"/>
<polygon points="707.8,44.5 710.0,41.3 711.7,41.3 711.7,45.0" fill="#0a32ff"/>
<polygon points="590.0,115.9 598.7,112.8 606.5,106.5 615.9,104.1 622.2,99.4 626.9,98.6 630.8,100.2 631.6,107.3 626.9,115.1 621.4,122.2 615.1,125.0 609.7,121.9 601.8,120.6 593.2,119.8" fill="#0a32ff"/>
<polygon points="551.6,115.1 557.8,117.5 568.8,120.6 581.4,122.2 589.2,125.3 590.8,128.5 551.6,128.5" fill="#0a32ff"/>
<polygon points="612.0,128.5 615.1,124.5 621.4,122.2 623.8,128.5" fill="#0a32ff"/>
<polygon points="677.9,123.8 686.6,119.8 696.8,115.9 704.6,111.2 711.7,108.1 711.7,128.5 680.3,128.5" fill="#00a0ff"/>
<clipPath id="rt0c"><polygon points="677.9,123.8 686.6,119.8 696.8,115.9 704.6,111.2 711.7,108.1 711.7,128.5 680.3,128.5"/></clipPath>
<g clip-path="url(#rt0c)" stroke="#1e90ff" stroke-opacity="0.38" stroke-width="0.8"><line x1="552.75" x2="706" y1="35.5" y2="35.5"/><line x1="552.75" x2="706" y1="83.7" y2="83.7"/><line x1="552.75" x2="706" y1="107.3" y2="107.3"/></g>
<clipPath id="rt0b"><polygon points="711.7,58.6 705.4,60.2 698.4,63.3 691.3,61.8 684.2,62.5 679.5,68.8 677.5,75.9 683.4,82.2 689.7,89.2 694.4,97.9 695.2,106.5 691.3,109.6 681.9,112.0 669.3,113.6 658.3,114.3 654.4,118.3 652.8,121.4 642.6,119.1 635.6,119.1 626.9,123.0 622.2,128.5 711.7,128.5"/><polygon points="681.9,52.3 685.0,51.2 688.1,52.3 685.0,55.0"/><polygon points="707.8,44.5 710.0,41.3 711.7,41.3 711.7,45.0"/><polygon points="590.0,115.9 598.7,112.8 606.5,106.5 615.9,104.1 622.2,99.4 626.9,98.6 630.8,100.2 631.6,107.3 626.9,115.1 621.4,122.2 615.1,125.0 609.7,121.9 601.8,120.6 593.2,119.8"/><polygon points="551.6,115.1 557.8,117.5 568.8,120.6 581.4,122.2 589.2,125.3 590.8,128.5 551.6,128.5"/><polygon points="612.0,128.5 615.1,124.5 621.4,122.2 623.8,128.5"/></clipPath>
<g clip-path="url(#rt0b)" stroke="#b4beff" stroke-opacity="0.55" stroke-width="0.8"><line x1="552.75" x2="706" y1="35.5" y2="35.5"/><line x1="552.75" x2="706" y1="83.7" y2="83.7"/><line x1="552.75" x2="706" y1="107.3" y2="107.3"/></g>
</g>
<clipPath id="rt1"><rect x="705" y="32.5" width="150" height="92.5"/></clipPath>
<g clip-path="url(#rt1)">
<rect x="704" y="31.5" width="152" height="94.5" fill="#0a32ff"/>
<g stroke="#b4beff" stroke-opacity="0.55" stroke-width="0.8"><line x1="704" x2="856" y1="35.5" y2="35.5"/><line x1="704" x2="856" y1="83.7" y2="83.7"/><line x1="704" x2="856" y1="107.3" y2="107.3"/></g>
<polygon points="698.4,113.6 709.4,108.1 722.0,103.4 729.0,100.2 740.8,101.0 753.4,103.4 765.9,104.9 772.2,107.3 765.9,114.3 758.1,120.6 753.4,125.3 752.6,128.5 698.4,128.5" fill="#00a0ff"/>
<polygon points="727.0,91.6 730.6,90.8 729.8,97.1" fill="#00a0ff"/>
<polygon points="766.7,91.6 768.3,90.8 769.1,92.4" fill="#00a0ff"/>
<polygon points="698.4,31.1 752.6,31.1 754.9,35.8 754.2,43.7 747.1,47.6 735.3,48.4 728.3,53.1 723.5,58.6 715.7,57.8 706.3,60.2 698.4,64.1" fill="#ffffff"/>
<polygon points="708.2,43.7 711.0,40.6 717.3,43.4 716.5,45.6" fill="#0a32ff"/>
<polygon points="760.4,31.1 830.3,31.1 826.4,39.8 820.9,44.5 825.6,50.0 835.0,51.5 838.1,55.5 839.7,61.8 846.8,68.8 842.1,77.5 833.4,83.7 829.5,91.6 835.8,100.2 832.7,105.7 827.9,107.3 838.1,106.5 841.3,101.0 844.4,98.6 846.8,101.0 847.6,108.1 850.7,122.2 845.2,128.5 825.6,128.5 827.2,122.2 817.7,119.1 809.9,114.3 802.0,112.0 794.2,108.1 791.8,101.0 796.5,97.1 803.6,91.6 806.8,85.3 812.2,83.7 812.7,75.9 800.5,74.3 794.2,68.0 797.3,60.2 794.2,53.1 789.5,51.5 781.6,50.8 775.4,42.9 774.6,35.8 767.5,34.0" fill="#ffffff"/>
<clipPath id="rt1c"><polygon points="698.4,113.6 709.4,108.1 722.0,103.4 729.0,100.2 740.8,101.0 753.4,103.4 765.9,104.9 772.2,107.3 765.9,114.3 758.1,120.6 753.4,125.3 752.6,128.5 698.4,128.5"/><polygon points="727.0,91.6 730.6,90.8 729.8,97.1"/><polygon points="766.7,91.6 768.3,90.8 769.1,92.4"/></clipPath>
<g clip-path="url(#rt1c)" stroke="#1e90ff" stroke-opacity="0.38" stroke-width="0.8"><line x1="704" x2="856" y1="35.5" y2="35.5"/><line x1="704" x2="856" y1="83.7" y2="83.7"/><line x1="704" x2="856" y1="107.3" y2="107.3"/></g>
<clipPath id="rt1b"><polygon points="708.2,43.7 711.0,40.6 717.3,43.4 716.5,45.6"/></clipPath>
<g clip-path="url(#rt1b)" stroke="#b4beff" stroke-opacity="0.55" stroke-width="0.8"><line x1="704" x2="856" y1="35.5" y2="35.5"/><line x1="704" x2="856" y1="83.7" y2="83.7"/><line x1="704" x2="856" y1="107.3" y2="107.3"/></g>
<polygon points="698.4,31.1 752.6,31.1 754.9,35.8 754.2,43.7 747.1,47.6 735.3,48.4 728.3,53.1 723.5,58.6 715.7,57.8 706.3,60.2 698.4,64.1" fill="#ffffff"/>
<polygon points="708.2,43.7 711.0,40.6 717.3,43.4 716.5,45.6" fill="#0a32ff"/>
<polygon points="760.4,31.1 830.3,31.1 826.4,39.8 820.9,44.5 825.6,50.0 835.0,51.5 838.1,55.5 839.7,61.8 846.8,68.8 842.1,77.5 833.4,83.7 829.5,91.6 835.8,100.2 832.7,105.7 827.9,107.3 838.1,106.5 841.3,101.0 844.4,98.6 846.8,101.0 847.6,108.1 850.7,122.2 845.2,128.5 825.6,128.5 827.2,122.2 817.7,119.1 809.9,114.3 802.0,112.0 794.2,108.1 791.8,101.0 796.5,97.1 803.6,91.6 806.8,85.3 812.2,83.7 812.7,75.9 800.5,74.3 794.2,68.0 797.3,60.2 794.2,53.1 789.5,51.5 781.6,50.8 775.4,42.9 774.6,35.8 767.5,34.0" fill="#ffffff"/>
</g>
<clipPath id="rt2"><rect x="855" y="32.5" width="147" height="92.5"/></clipPath>
<g clip-path="url(#rt2)">
<rect x="854" y="31.5" width="149" height="94.5" fill="#0a32ff"/>
<g stroke="#b4beff" stroke-opacity="0.55" stroke-width="0.8"><line x1="854" x2="1003" y1="35.5" y2="35.5"/><line x1="854" x2="1003" y1="83.7" y2="83.7"/><line x1="854" x2="1003" y1="107.3" y2="107.3"/></g>
<polygon points="897.1,123.8 901.8,115.1 908.9,101.8 915.9,104.1 922.2,109.6 926.1,117.5 926.9,123.0 925.4,128.5 897.1,128.5" fill="#00a0ff"/>
<polygon points="901.8,43.7 909.7,38.7 917.5,36.6 922.2,34.0 928.5,34.3 931.6,31.1 962.2,31.1 959.9,36.6 954.4,40.6 945.8,40.9 937.9,39.0 933.2,37.4 927.7,38.2 923.0,43.7 915.9,46.8 908.9,47.6" fill="#ffffff"/>
<polygon points="937.1,60.2 941.1,57.0 947.3,56.6 950.2,59.4 944.2,62.2 940.3,62.2" fill="#ffffff"/>
<polygon points="986.6,52.3 992.5,48.1 1002.3,51.5 1002.3,53.9 992.5,57.5" fill="#ffffff"/>
<polygon points="969.0,75.1 973.2,70.1 977.5,75.4 973.2,79.0" fill="#ffffff"/>
<polygon points="963.8,108.1 967.0,103.4 974.0,101.0 984.2,101.0 989.7,107.3 983.4,111.2 974.0,115.1 965.4,115.9" fill="#ffffff"/>
<polygon points="848.4,115.1 850.8,117.5 851.3,123.8 848.4,124.5" fill="#ffffff"/>
<clipPath id="rt2c"><polygon points="897.1,123.8 901.8,115.1 908.9,101.8 915.9,104.1 922.2,109.6 926.1,117.5 926.9,123.0 925.4,128.5 897.1,128.5"/></clipPath>
<g clip-path="url(#rt2c)" stroke="#1e90ff" stroke-opacity="0.38" stroke-width="0.8"><line x1="854" x2="1003" y1="35.5" y2="35.5"/><line x1="854" x2="1003" y1="83.7" y2="83.7"/><line x1="854" x2="1003" y1="107.3" y2="107.3"/></g>
<polygon points="901.8,43.7 909.7,38.7 917.5,36.6 922.2,34.0 928.5,34.3 931.6,31.1 962.2,31.1 959.9,36.6 954.4,40.6 945.8,40.9 937.9,39.0 933.2,37.4 927.7,38.2 923.0,43.7 915.9,46.8 908.9,47.6" fill="#ffffff"/>
<polygon points="937.1,60.2 941.1,57.0 947.3,56.6 950.2,59.4 944.2,62.2 940.3,62.2" fill="#ffffff"/>
<polygon points="986.6,52.3 992.5,48.1 1002.3,51.5 1002.3,53.9 992.5,57.5" fill="#ffffff"/>
<polygon points="969.0,75.1 973.2,70.1 977.5,75.4 973.2,79.0" fill="#ffffff"/>
<polygon points="963.8,108.1 967.0,103.4 974.0,101.0 984.2,101.0 989.7,107.3 983.4,111.2 974.0,115.1 965.4,115.9" fill="#ffffff"/>
<polygon points="848.4,115.1 850.8,117.5 851.3,123.8 848.4,124.5" fill="#ffffff"/>
</g>
<clipPath id="rt3"><rect x="553.75" y="125" width="151.25" height="96"/></clipPath>
<g clip-path="url(#rt3)">
<rect x="552.75" y="124" width="153.25" height="98" fill="#0a32ff"/>
<g stroke="#b4beff" stroke-opacity="0.55" stroke-width="0.8"><line x1="552.75" x2="706" y1="131" y2="131"/><line x1="552.75" x2="706" y1="179" y2="179"/><line x1="552.75" x2="706" y1="202" y2="202"/></g>
<polygon points="677.9,122.4 683.4,131.1 672.4,139.7 659.9,138.9 650.5,138.1 641.1,141.3 630.1,142.8 623.8,149.1 620.6,155.4 619.1,163.2 614.4,171.1 619.1,173.5 626.9,175.8 630.1,178.9 628.5,183.7 612.8,186.0 612.0,196.2 609.7,204.1 601.8,207.2 594.7,210.3 603.4,215.1 608.1,218.2 608.9,224.5 711.7,224.5 711.7,122.4" fill="#00a0ff"/>
<polygon points="682.7,155.4 685.0,154.6 687.4,155.4 685.0,156.3" fill="#0a32ff"/>
<polygon points="635.6,155.4 641.1,151.5 646.5,149.9 652.0,152.3 656.8,155.1 652.0,159.3 644.2,160.1 638.7,158.2" fill="#00c8c8"/>
<polygon points="646.5,174.2 650.5,166.4 656.8,164.5 663.0,167.2 669.3,170.3 678.7,171.9 688.1,171.1 697.6,172.7 703.1,178.2 699.1,184.4 700.7,187.6 711.7,191.5 711.7,215.1 699.1,216.6 689.7,219.8 688.1,224.5 627.7,224.5 628.5,216.6 627.7,209.6 626.9,202.5 630.1,196.2 637.1,192.3 644.2,186.8 645.8,180.5" fill="#00c8c8"/>
<polygon points="706.2,170.8 711.7,168.0 711.7,174.2 708.6,173.5" fill="#00c8c8"/>
<polygon points="648.9,203.3 651.3,197.8 658.3,191.5 666.2,188.7 672.4,189.1 675.6,194.6 685.0,198.6 692.1,201.7 683.4,205.6 680.3,211.9 674.0,215.1 666.2,215.8 658.3,213.5 652.0,208.8" fill="#00d28c"/>
<polygon points="587.7,122.4 592.4,130.3 595.5,135.0 601.0,136.6 604.9,139.4 600.2,144.1 595.5,144.1 591.6,148.3 579.8,155.4 586.9,159.3 596.3,163.2 603.4,163.2 605.7,156.2 606.5,146.0 610.4,141.3 615.9,135.0 618.3,128.7 623.8,125.6 626.9,122.4 617.5,122.4 613.6,125.6 612.0,122.4" fill="#ffffff"/>
<polygon points="551.6,144.4 556.3,145.2 563.3,147.5 557.1,149.9 551.6,153.0" fill="#ffffff"/>
<polygon points="551.6,157.8 559.4,162.5 567.3,165.6 574.3,171.1 574.8,178.9 570.4,183.7 562.6,189.9 558.6,195.4 555.5,200.1 551.6,199.4" fill="#ffffff"/>
<polygon points="557.1,211.9 564.1,204.8 569.6,204.4 579.8,210.3 575.9,215.1 569.6,220.1 563.3,220.5" fill="#ffffff"/>
<clipPath id="rt3c"><polygon points="677.9,122.4 683.4,131.1 672.4,139.7 659.9,138.9 650.5,138.1 641.1,141.3 630.1,142.8 623.8,149.1 620.6,155.4 619.1,163.2 614.4,171.1 619.1,173.5 626.9,175.8 630.1,178.9 628.5,183.7 612.8,186.0 612.0,196.2 609.7,204.1 601.8,207.2 594.7,210.3 603.4,215.1 608.1,218.2 608.9,224.5 711.7,224.5 711.7,122.4"/><polygon points="635.6,155.4 641.1,151.5 646.5,149.9 652.0,152.3 656.8,155.1 652.0,159.3 644.2,160.1 638.7,158.2"/><polygon points="646.5,174.2 650.5,166.4 656.8,164.5 663.0,167.2 669.3,170.3 678.7,171.9 688.1,171.1 697.6,172.7 703.1,178.2 699.1,184.4 700.7,187.6 711.7,191.5 711.7,215.1 699.1,216.6 689.7,219.8 688.1,224.5 627.7,224.5 628.5,216.6 627.7,209.6 626.9,202.5 630.1,196.2 637.1,192.3 644.2,186.8 645.8,180.5"/><polygon points="706.2,170.8 711.7,168.0 711.7,174.2 708.6,173.5"/><polygon points="648.9,203.3 651.3,197.8 658.3,191.5 666.2,188.7 672.4,189.1 675.6,194.6 685.0,198.6 692.1,201.7 683.4,205.6 680.3,211.9 674.0,215.1 666.2,215.8 658.3,213.5 652.0,208.8"/></clipPath>
<g clip-path="url(#rt3c)" stroke="#1e90ff" stroke-opacity="0.38" stroke-width="0.8"><line x1="552.75" x2="706" y1="131" y2="131"/><line x1="552.75" x2="706" y1="179" y2="179"/><line x1="552.75" x2="706" y1="202" y2="202"/></g>
<clipPath id="rt3b"><polygon points="682.7,155.4 685.0,154.6 687.4,155.4 685.0,156.3"/></clipPath>
<g clip-path="url(#rt3b)" stroke="#b4beff" stroke-opacity="0.55" stroke-width="0.8"><line x1="552.75" x2="706" y1="131" y2="131"/><line x1="552.75" x2="706" y1="179" y2="179"/><line x1="552.75" x2="706" y1="202" y2="202"/></g>
<polygon points="587.7,122.4 592.4,130.3 595.5,135.0 601.0,136.6 604.9,139.4 600.2,144.1 595.5,144.1 591.6,148.3 579.8,155.4 586.9,159.3 596.3,163.2 603.4,163.2 605.7,156.2 606.5,146.0 610.4,141.3 615.9,135.0 618.3,128.7 623.8,125.6 626.9,122.4 617.5,122.4 613.6,125.6 612.0,122.4" fill="#ffffff"/>
<polygon points="551.6,144.4 556.3,145.2 563.3,147.5 557.1,149.9 551.6,153.0" fill="#ffffff"/>
<polygon points="551.6,157.8 559.4,162.5 567.3,165.6 574.3,171.1 574.8,178.9 570.4,183.7 562.6,189.9 558.6,195.4 555.5,200.1 551.6,199.4" fill="#ffffff"/>
<polygon points="557.1,211.9 564.1,204.8 569.6,204.4 579.8,210.3 575.9,215.1 569.6,220.1 563.3,220.5" fill="#ffffff"/>
</g>
<clipPath id="rt4"><rect x="705" y="125" width="150" height="96"/></clipPath>
<g clip-path="url(#rt4)">
<rect x="704" y="124" width="152" height="98" fill="#00a0ff"/>
<polygon points="754.2,122.4 754.2,131.1 767.5,137.3 773.8,144.4 781.6,147.5 787.9,155.4 794.2,168.0 803.6,166.4 808.3,162.5 819.3,157.8 827.2,154.6 828.7,146.8 844.4,143.6 861.7,138.1 861.7,122.4" fill="#0a32ff"/>
<polygon points="843.2,162.9 846.8,162.1 850.7,163.2 846.8,164.5" fill="#0a32ff"/>
<polygon points="720.4,131.8 723.5,129.0 728.3,128.7 731.4,131.1 729.8,134.2 724.3,135.8" fill="#00c8c8"/>
<polygon points="746.3,163.2 749.5,160.4 754.9,160.4 758.4,163.2 754.9,166.7 749.5,166.7" fill="#00c8c8"/>
<polygon points="706.3,170.8 711.0,168.0 716.5,168.7 718.5,171.1 714.1,173.9 708.6,173.5" fill="#00c8c8"/>
<polygon points="698.4,176.6 701.6,176.6 703.1,178.9 700.8,182.9 698.4,182.9" fill="#00c8c8"/>
<polygon points="698.4,188.4 709.4,192.3 720.4,195.4 729.8,201.7 718.8,205.6 711.0,209.6 705.5,215.1 698.4,216.6" fill="#00c8c8"/>
<polygon points="741.1,195.4 749.5,193.1 749.9,196.5 746.3,197.5" fill="#00c8c8"/>
<polygon points="792.6,188.4 794.2,183.7 800.5,179.7 809.9,178.2 822.4,178.2 833.4,182.1 842.9,184.4 846.8,189.9 846.0,197.8 842.1,200.1 835.0,197.8 827.2,192.3 819.3,189.9 809.9,191.5 800.5,192.8 795.0,191.5" fill="#00c8c8"/>
<polygon points="825.6,211.9 830.3,208.0 838.1,204.8 846.0,204.8 850.7,208.8 857.8,210.3 850.7,211.6 846.0,215.8 838.1,216.3 830.3,215.4" fill="#00c8c8"/>
<polygon points="824.8,222.9 827.9,220.5 830.3,222.9" fill="#00c8c8"/>
<polygon points="812.2,131.1 814.6,128.7 820.1,127.5 825.6,127.9 827.9,122.4 850.7,122.4 846.0,125.6 836.6,127.9 828.7,130.6 820.1,133.7 815.4,132.6" fill="#ffffff"/>
<g stroke="#1e90ff" stroke-opacity="0.38" stroke-width="0.8"><line x1="704" x2="856" y1="131" y2="131"/><line x1="704" x2="856" y1="179" y2="179"/><line x1="704" x2="856" y1="202" y2="202"/></g>
<clipPath id="rt4b"><polygon points="754.2,122.4 754.2,131.1 767.5,137.3 773.8,144.4 781.6,147.5 787.9,155.4 794.2,168.0 803.6,166.4 808.3,162.5 819.3,157.8 827.2,154.6 828.7,146.8 844.4,143.6 861.7,138.1 861.7,122.4"/><polygon points="843.2,162.9 846.8,162.1 850.7,163.2 846.8,164.5"/></clipPath>
<g clip-path="url(#rt4b)" stroke="#b4beff" stroke-opacity="0.55" stroke-width="0.8"><line x1="704" x2="856" y1="131" y2="131"/><line x1="704" x2="856" y1="179" y2="179"/><line x1="704" x2="856" y1="202" y2="202"/></g>
<polygon points="812.2,131.1 814.6,128.7 820.1,127.5 825.6,127.9 827.9,122.4 850.7,122.4 846.0,125.6 836.6,127.9 828.7,130.6 820.1,133.7 815.4,132.6" fill="#ffffff"/>
</g>
<clipPath id="rt5"><rect x="855" y="125" width="147" height="96"/></clipPath>
<g clip-path="url(#rt5)">
<rect x="854" y="124" width="149" height="98" fill="#00a0ff"/>
<polygon points="848.4,122.4 897.1,122.4 900.2,130.3 900.2,137.3 896.3,142.8 884.5,141.6 870.4,141.0 863.3,138.4 854.7,140.5 848.4,142.8" fill="#0a32ff"/>
<polygon points="926.9,122.4 919.1,129.5 912.8,132.6 908.1,139.7 923.8,140.5 934.8,144.4 945.8,143.6 953.6,142.1 960.7,146.8 966.2,145.2 974.0,142.1 986.6,142.5 992.1,146.8 997.6,144.4 1002.3,142.8 1002.3,122.4" fill="#0a32ff"/>
<polygon points="848.4,162.5 850.8,162.9 848.4,164.0" fill="#0a32ff"/>
<polygon points="985.3,186.0 991.3,182.1 997.6,180.2 1002.3,179.7 1002.3,190.7 996.8,189.9 990.5,188.4" fill="#0a32ff"/>
<polygon points="963.3,210.3 970.9,209.6 978.7,211.1 974.0,216.6 967.7,216.6" fill="#0a32ff"/>
<polygon points="980.0,211.1 986.6,208.8 992.9,206.4 998.4,203.3 1002.3,202.5 1002.3,211.9 996.8,216.6 992.1,218.2 985.0,215.1" fill="#0a32ff"/>
<polygon points="946.1,195.4 949.7,190.7 953.6,188.7 959.9,191.5 967.0,191.8 970.6,195.4 967.7,200.9 960.7,203.3 953.6,199.4 948.1,197.8" fill="#00c8c8"/>
<polygon points="878.3,219.0 887.7,215.8 897.1,212.7 903.4,210.3 905.7,214.3 906.5,219.0 917.5,220.5 919.9,224.5 881.4,224.5" fill="#00c8c8"/>
<polygon points="848.4,208.0 853.9,209.6 857.8,210.7 851.6,211.6 848.4,211.6" fill="#00c8c8"/>
<g stroke="#1e90ff" stroke-opacity="0.38" stroke-width="0.8"><line x1="854" x2="1003" y1="131" y2="131"/><line x1="854" x2="1003" y1="179" y2="179"/><line x1="854" x2="1003" y1="202" y2="202"/></g>
<clipPath id="rt5b"><polygon points="848.4,122.4 897.1,122.4 900.2,130.3 900.2,137.3 896.3,142.8 884.5,141.6 870.4,141.0 863.3,138.4 854.7,140.5 848.4,142.8"/><polygon points="926.9,122.4 919.1,129.5 912.8,132.6 908.1,139.7 923.8,140.5 934.8,144.4 945.8,143.6 953.6,142.1 960.7,146.8 966.2,145.2 974.0,142.1 986.6,142.5 992.1,146.8 997.6,144.4 1002.3,142.8 1002.3,122.4"/><polygon points="848.4,162.5 850.8,162.9 848.4,164.0"/><polygon points="985.3,186.0 991.3,182.1 997.6,180.2 1002.3,179.7 1002.3,190.7 996.8,189.9 990.5,188.4"/><polygon points="963.3,210.3 970.9,209.6 978.7,211.1 974.0,216.6 967.7,216.6"/><polygon points="980.0,211.1 986.6,208.8 992.9,206.4 998.4,203.3 1002.3,202.5 1002.3,211.9 996.8,216.6 992.1,218.2 985.0,215.1"/></clipPath>
<g clip-path="url(#rt5b)" stroke="#b4beff" stroke-opacity="0.55" stroke-width="0.8"><line x1="854" x2="1003" y1="131" y2="131"/><line x1="854" x2="1003" y1="179" y2="179"/><line x1="854" x2="1003" y1="202" y2="202"/></g>
</g>
<clipPath id="rt6"><rect x="553.75" y="221" width="151.25" height="96"/></clipPath>
<g clip-path="url(#rt6)">
<rect x="552.75" y="220" width="153.25" height="98" fill="#00a0ff"/>
<polygon points="551.6,218.4 607.3,218.4 608.4,226.3 601.8,229.4 594.0,235.7 581.4,235.7 570.4,235.4 561.0,233.3 551.6,232.6" fill="#0a32ff"/>
<polygon points="627.7,218.4 626.9,226.3 617.5,229.4 606.5,233.3 602.6,240.4 590.8,245.9 577.5,250.6 570.4,257.7 563.3,271.0 554.7,272.6 551.6,273.4 551.6,278.1 559.4,276.5 568.8,275.3 578.3,270.2 589.2,264.7 595.5,262.4 602.6,264.7 604.2,274.2 612.8,277.3 620.6,275.7 625.4,273.1 641.1,273.4 639.5,282.0 647.3,285.1 659.9,284.4 669.3,282.0 678.7,277.3 686.6,274.2 694.4,273.4 701.5,274.9 704.6,281.2 700.7,284.4 689.7,286.7 677.9,287.5 678.7,291.4 685.0,293.8 692.1,293.0 696.0,296.9 694.4,305.6 689.7,310.3 681.9,312.6 686.6,316.5 694.4,318.1 697.6,320.5 711.7,320.5 711.7,238.8 700.7,239.6 691.3,240.4 683.4,234.9 687.4,227.8 689.7,218.4" fill="#00c8c8"/>
<polygon points="656.8,257.7 659.9,253.8 670.9,253.0 678.7,249.0 685.0,248.3 688.9,251.4 687.4,264.0 685.0,271.8 675.6,271.0 666.2,267.9 660.7,262.4" fill="#00a0ff"/>
<polygon points="551.6,274.2 568.8,275.3 578.3,278.9 587.7,279.7 590.0,283.6 586.1,289.1 581.4,292.2 573.5,289.9 570.4,283.6 562.6,280.4 554.7,278.4 551.6,278.4" fill="#00c8c8"/>
<polygon points="551.6,300.1 554.7,300.8 562.6,305.6 554.7,307.9 551.6,307.9" fill="#00c8c8"/>
<polygon points="606.8,296.9 608.4,296.1 609.3,300.1 607.8,304.0 606.5,300.1" fill="#00c8c8"/>
<polygon points="664.6,313.4 668.5,312.6 667.0,315.8" fill="#00c8c8"/>
<polygon points="660.7,226.3 664.6,225.0 667.0,226.6 663.8,227.8" fill="#00d28c"/>
<polygon points="699.1,265.5 703.8,263.6 707.0,265.8 703.1,267.4" fill="#00d28c"/>
<polygon points="562.6,219.2 568.8,218.4 568.8,220.5 563.3,220.8" fill="#ffffff"/>
<g stroke="#1e90ff" stroke-opacity="0.38" stroke-width="0.8"><line x1="552.75" x2="706" y1="226.3" y2="226.3"/><line x1="552.75" x2="706" y1="274.2" y2="274.2"/><line x1="552.75" x2="706" y1="297.7" y2="297.7"/></g>
<clipPath id="rt6b"><polygon points="551.6,218.4 607.3,218.4 608.4,226.3 601.8,229.4 594.0,235.7 581.4,235.7 570.4,235.4 561.0,233.3 551.6,232.6"/></clipPath>
<g clip-path="url(#rt6b)" stroke="#b4beff" stroke-opacity="0.55" stroke-width="0.8"><line x1="552.75" x2="706" y1="226.3" y2="226.3"/><line x1="552.75" x2="706" y1="274.2" y2="274.2"/><line x1="552.75" x2="706" y1="297.7" y2="297.7"/></g>
<polygon points="562.6,219.2 568.8,218.4 568.8,220.5 563.3,220.8" fill="#ffffff"/>
</g>
<clipPath id="rt7"><rect x="705" y="221" width="150" height="96"/></clipPath>
<g clip-path="url(#rt7)">
<rect x="704" y="220" width="152" height="98" fill="#00c8c8"/>
<polygon points="698.4,218.4 861.7,218.4 861.7,274.2 844.4,274.2 827.2,274.2 834.2,267.1 839.7,263.2 842.1,257.7 838.1,249.8 832.7,243.5 825.6,236.5 815.4,234.1 811.5,227.1 805.2,223.5 798.9,223.5 795.8,227.1 781.6,231.0 767.5,232.6 762.8,236.5 755.7,242.8 762.8,249.0 764.7,256.1 763.6,265.5 755.7,269.9 748.7,269.5 742.4,263.2 734.5,258.5 740.0,250.6 736.1,244.3 723.5,243.5 715.7,240.1 707.8,241.2 698.4,238.8" fill="#00a0ff"/>
<polygon points="818.5,226.3 825.6,221.3 836.6,223.9 847.6,224.7 858.6,226.3 846.0,229.4 835.0,228.6 825.6,229.7" fill="#00c8c8"/>
<polygon points="856.2,249.8 857.8,248.3 858.9,250.1 857.5,251.4" fill="#00c8c8"/>
<polygon points="827.2,274.2 861.7,274.2 861.7,286.7 855.4,285.9 851.5,287.5 847.6,282.0 844.4,278.1 841.3,282.8 844.4,289.9 838.1,292.2 830.3,291.4 824.8,289.9 831.1,285.9 836.6,282.0 832.7,277.3" fill="#00a0ff"/>
<polygon points="698.4,274.2 702.4,274.9 704.4,282.0 698.4,284.4" fill="#00a0ff"/>
<polygon points="722.0,297.7 725.1,296.1 731.4,296.9 739.2,301.6 751.8,305.6 744.0,311.1 736.1,315.0 731.4,317.3 722.0,315.8 718.8,313.4 727.5,306.3 723.5,303.2" fill="#00a0ff"/>
<polygon points="767.5,274.9 772.2,272.6 777.7,272.1 781.6,274.6 787.9,271.0 797.3,268.7 805.2,269.0 807.5,271.8 806.8,276.5 800.5,282.8 792.6,285.9 787.1,288.3 778.5,286.7 770.6,282.8 768.3,278.9" fill="#00d28c"/>
<polygon points="815.4,316.5 819.3,313.4 825.6,311.8 831.9,313.9 830.3,317.3 828.7,320.5 814.6,320.5" fill="#00d28c"/>
<polygon points="853.1,317.3 857.0,314.2 861.7,311.8 861.7,320.5 853.1,320.5" fill="#00d28c"/>
<polygon points="698.4,264.7 703.9,264.0 706.3,266.3 702.4,267.1 698.4,267.1" fill="#00d28c"/>
<g stroke="#1e90ff" stroke-opacity="0.38" stroke-width="0.8"><line x1="704" x2="856" y1="226.3" y2="226.3"/><line x1="704" x2="856" y1="274.2" y2="274.2"/><line x1="704" x2="856" y1="297.7" y2="297.7"/></g>
</g>
<clipPath id="rt8"><rect x="855" y="221" width="147" height="96"/></clipPath>
<g clip-path="url(#rt8)">
<rect x="854" y="220" width="149" height="98" fill="#00a0ff"/>
<polygon points="879.8,218.4 887.7,227.8 886.9,237.3 883.0,243.5 875.9,247.5 872.0,255.3 870.4,263.2 863.3,266.3 870.4,268.7 875.1,272.6 886.1,274.9 881.4,278.9 875.1,284.4 870.4,289.1 863.3,289.1 856.3,285.9 848.4,287.5 848.4,320.5 1002.3,320.5 1002.3,309.5 986.6,309.5 975.6,307.1 966.2,302.4 952.0,305.6 944.2,307.1 933.2,304.8 923.8,301.6 917.5,297.7 928.5,293.0 938.7,289.9 933.2,288.3 925.4,285.9 917.5,282.8 912.8,278.1 909.7,272.6 903.4,270.2 901.0,265.5 905.7,258.5 909.7,251.4 914.4,248.3 922.2,250.6 930.1,252.2 937.1,248.3 942.6,242.0 945.8,234.9 940.3,230.2 931.6,224.7 917.5,218.4" fill="#00c8c8"/>
<polygon points="912.0,258.5 915.1,255.8 918.8,258.5 915.1,261.1" fill="#00c8c8"/>
<polygon points="865.7,226.6 870.4,224.7 874.3,226.6 870.4,228.2" fill="#00c8c8"/>
<polygon points="848.4,226.0 859.4,226.3 848.4,227.5" fill="#00c8c8"/>
<polygon points="856.6,249.8 857.8,248.3 858.6,250.6" fill="#00c8c8"/>
<polygon points="946.1,258.5 950.5,250.6 953.6,242.8 959.9,240.7 967.0,239.6 969.6,243.5 970.6,250.6 973.2,255.3 980.3,254.2 986.6,253.4 992.9,254.2 997.6,257.7 991.3,262.1 985.0,263.6 978.7,262.4 974.0,259.2 963.0,260.5 952.0,261.1" fill="#0a32ff"/>
<polygon points="954.4,282.5 959.9,280.4 966.2,280.0 974.0,281.5 980.3,279.7 985.0,273.4 986.6,271.5 991.3,272.6 998.4,268.7 1002.3,267.9 1002.3,297.7 997.6,298.5 992.9,296.9 986.6,300.1 979.5,300.8 977.5,296.9 979.5,289.1 974.0,283.6 967.7,285.9 959.9,284.7" fill="#0a32ff"/>
<polygon points="856.3,320.5 861.0,312.6 870.4,307.9 881.4,301.6 889.2,296.9 895.5,291.4 903.4,293.0 909.7,298.5 908.9,303.2 905.7,307.1 912.8,312.6 919.1,317.3 919.1,320.5" fill="#00d28c"/>
<polygon points="947.3,320.5 950.5,316.5 959.9,313.4 967.0,311.4 974.0,314.2 977.2,320.5" fill="#00d28c"/>
<polygon points="867.3,320.5 870.4,315.8 874.3,313.9 878.3,315.0 880.6,320.5" fill="#ffffff"/>
<g stroke="#1e90ff" stroke-opacity="0.38" stroke-width="0.8"><line x1="854" x2="1003" y1="226.3" y2="226.3"/><line x1="854" x2="1003" y1="274.2" y2="274.2"/><line x1="854" x2="1003" y1="297.7" y2="297.7"/></g>
<clipPath id="rt8b"><polygon points="946.1,258.5 950.5,250.6 953.6,242.8 959.9,240.7 967.0,239.6 969.6,243.5 970.6,250.6 973.2,255.3 980.3,254.2 986.6,253.4 992.9,254.2 997.6,257.7 991.3,262.1 985.0,263.6 978.7,262.4 974.0,259.2 963.0,260.5 952.0,261.1"/><polygon points="954.4,282.5 959.9,280.4 966.2,280.0 974.0,281.5 980.3,279.7 985.0,273.4 986.6,271.5 991.3,272.6 998.4,268.7 1002.3,267.9 1002.3,297.7 997.6,298.5 992.9,296.9 986.6,300.1 979.5,300.8 977.5,296.9 979.5,289.1 974.0,283.6 967.7,285.9 959.9,284.7"/></clipPath>
<g clip-path="url(#rt8b)" stroke="#b4beff" stroke-opacity="0.55" stroke-width="0.8"><line x1="854" x2="1003" y1="226.3" y2="226.3"/><line x1="854" x2="1003" y1="274.2" y2="274.2"/><line x1="854" x2="1003" y1="297.7" y2="297.7"/></g>
<polygon points="867.3,320.5 870.4,315.8 874.3,313.9 878.3,315.0 880.6,320.5" fill="#ffffff"/>
</g>
<clipPath id="rt9"><rect x="553.75" y="317" width="151.25" height="96"/></clipPath>
<g clip-path="url(#rt9)">
<rect x="552.75" y="316" width="153.25" height="98" fill="#00a0ff"/>
<polygon points="574.8,329.3 578.3,327.3 583.0,327.3 583.0,331.7 577.5,331.7" fill="#00c8c8"/>
<polygon points="618.8,329.8 622.2,327.8 627.7,328.6 628.5,330.9 623.8,332.0 619.9,331.7" fill="#00c8c8"/>
<polygon points="571.2,345.0 576.7,339.9 586.1,340.3 595.5,341.1 600.2,345.5 595.5,352.4 587.7,349.8 578.3,349.8" fill="#00c8c8"/>
<polygon points="551.6,336.4 555.5,337.2 557.5,341.9 555.5,347.4 551.6,348.2" fill="#00c8c8"/>
<polygon points="551.6,359.2 557.8,360.0 564.9,362.3 573.5,369.4 568.8,376.4 564.1,383.5 557.8,386.6 551.6,387.4" fill="#00c8c8"/>
<polygon points="599.5,370.9 602.6,364.7 608.1,357.6 613.6,350.5 619.9,348.2 626.9,351.3 634.8,352.9 639.5,359.2 642.6,366.2 641.8,372.5 633.2,377.2 644.2,379.6 655.2,385.1 652.8,392.9 648.1,401.6 654.4,408.6 648.9,413.3 647.3,416.5 565.7,416.5 567.3,413.3 578.3,409.4 580.6,400.8 579.0,394.5 570.4,384.3 575.9,381.1 582.2,385.1 588.5,389.8 601.8,388.2 614.4,385.1 604.2,379.6 599.9,376.4" fill="#00c8c8"/>
<polygon points="588.5,409.4 593.2,408.3 597.1,409.4 593.2,410.5" fill="#00a0ff"/>
<polygon points="686.6,314.4 700.7,317.3 711.7,320.7 711.7,314.4" fill="#00c8c8"/>
<polygon points="691.3,330.9 699.1,327.8 711.7,323.8 711.7,346.6 700.7,349.8 691.3,353.7 698.4,357.6 699.9,361.5 696.0,364.7 685.0,365.9 681.9,359.2 678.7,352.9 670.9,354.5 665.4,357.1 663.0,353.7 669.3,352.1 675.6,351.8 679.5,352.9 683.4,342.7 692.9,339.5 693.6,335.6" fill="#00c8c8"/>
<polygon points="653.3,361.5 658.3,358.4 661.8,360.7 659.1,362.8" fill="#00c8c8"/>
<polygon points="671.2,320.7 673.2,319.5 674.8,322.0 672.1,323.1" fill="#00c8c8"/>
<polygon points="689.4,401.6 693.6,400.0 698.8,400.8 696.8,403.1 691.3,403.6" fill="#00c8c8"/>
<polygon points="703.1,384.8 710.9,384.4 710.9,385.7 703.1,385.7" fill="#0a32ff"/>
<g stroke="#1e90ff" stroke-opacity="0.38" stroke-width="0.8"><line x1="552.75" x2="706" y1="321.5" y2="321.5"/><line x1="552.75" x2="706" y1="369.4" y2="369.4"/><line x1="552.75" x2="706" y1="393" y2="393"/></g>
<clipPath id="rt9b"><polygon points="703.1,384.8 710.9,384.4 710.9,385.7 703.1,385.7"/></clipPath>
<g clip-path="url(#rt9b)" stroke="#b4beff" stroke-opacity="0.55" stroke-width="0.8"><line x1="552.75" x2="706" y1="321.5" y2="321.5"/><line x1="552.75" x2="706" y1="369.4" y2="369.4"/><line x1="552.75" x2="706" y1="393" y2="393"/></g>
</g>
<clipPath id="rt10"><rect x="705" y="317" width="150" height="96"/></clipPath>
<g clip-path="url(#rt10)">
<rect x="704" y="316" width="152" height="98" fill="#00c8c8"/>
<polygon points="698.4,349.8 706.3,345.0 715.7,342.7 723.5,342.7 728.3,347.4 739.2,353.7 731.4,360.0 723.5,365.5 716.5,363.9 714.9,370.2 718.8,374.9 728.3,377.2 739.2,375.7 750.2,378.0 758.1,383.5 762.0,391.4 765.9,400.8 768.3,408.6 775.4,407.1 780.1,411.8 781.6,416.5 698.4,416.5" fill="#00a0ff"/>
<polygon points="698.4,319.9 706.3,319.9 711.8,322.3 704.7,325.4 698.4,325.7" fill="#00a0ff"/>
<polygon points="720.1,329.8 723.5,326.7 726.7,329.8 723.5,333.0" fill="#00a0ff"/>
<polygon points="723.5,315.2 733.8,315.2 729.0,317.9" fill="#00a0ff"/>
<polygon points="702.8,384.8 711.8,384.4 711.8,386.0 702.8,386.0" fill="#0a32ff"/>
<polygon points="737.7,384.8 743.2,384.4 743.2,386.0 737.7,386.0" fill="#0a32ff"/>
<polygon points="750.2,329.3 754.9,324.2 761.2,328.2 767.5,322.6 775.4,322.0 780.8,327.8 785.6,322.0 794.2,322.3 790.3,329.3 791.1,338.0 786.3,343.5 775.4,346.6 771.4,353.7 781.6,356.5 789.5,358.4 793.9,361.5 787.9,367.0 778.5,368.6 769.1,371.3 759.7,369.4 749.0,368.6 751.8,363.9 758.1,358.4 765.9,353.7 762.0,345.0 758.9,336.4" fill="#00d28c"/>
<polygon points="795.8,345.8 800.5,343.0 809.9,343.0 815.4,345.8 809.9,349.3 800.5,349.8" fill="#00d28c"/>
<polygon points="808.3,322.0 813.0,317.6 817.7,314.4 833.4,314.4 825.6,319.1 819.3,322.6 812.2,323.1" fill="#00d28c"/>
<polygon points="861.7,314.4 854.6,314.4 847.6,322.3 841.3,324.6 831.9,325.4 825.6,336.4 829.5,345.0 819.3,352.9 812.2,360.7 802.0,370.2 794.2,378.0 789.5,385.1 785.6,394.5 785.6,400.8 791.1,407.1 796.5,413.3 798.1,416.5 861.7,416.5" fill="#00d28c"/>
<polygon points="842.1,336.4 845.2,333.0 848.4,337.2 845.2,339.5" fill="#00c8c8"/>
<polygon points="838.1,360.7 844.4,357.1 850.7,353.7 846.0,360.7 841.3,361.8" fill="#00c8c8"/>
<polygon points="830.0,376.9 835.0,374.9 838.9,373.8 838.9,379.6 834.2,378.8" fill="#00dc00"/>
<polygon points="812.2,408.6 819.3,406.3 831.9,406.3 836.6,408.6 842.1,413.3 843.6,416.5 816.2,416.5 814.6,411.8" fill="#00dc00"/>
<polygon points="861.7,343.5 858.6,344.3 858.2,352.9 850.7,353.7 846.0,360.7 845.2,369.4 838.9,376.4 838.9,392.9 833.4,401.6 842.9,413.3 844.4,416.5 861.7,416.5" fill="#ffffff"/>
<g stroke="#1e90ff" stroke-opacity="0.38" stroke-width="0.8"><line x1="704" x2="856" y1="321.5" y2="321.5"/><line x1="704" x2="856" y1="369.4" y2="369.4"/><line x1="704" x2="856" y1="393" y2="393"/></g>
<clipPath id="rt10b"><polygon points="702.8,384.8 711.8,384.4 711.8,386.0 702.8,386.0"/><polygon points="737.7,384.8 743.2,384.4 743.2,386.0 737.7,386.0"/></clipPath>
<g clip-path="url(#rt10b)" stroke="#b4beff" stroke-opacity="0.55" stroke-width="0.8"><line x1="704" x2="856" y1="321.5" y2="321.5"/><line x1="704" x2="856" y1="369.4" y2="369.4"/><line x1="704" x2="856" y1="393" y2="393"/></g>
<polygon points="861.7,343.5 858.6,344.3 858.2,352.9 850.7,353.7 846.0,360.7 845.2,369.4 838.9,376.4 838.9,392.9 833.4,401.6 842.9,413.3 844.4,416.5 861.7,416.5" fill="#ffffff"/>
</g>
<clipPath id="rt11"><rect x="855" y="317" width="147" height="96"/></clipPath>
<g clip-path="url(#rt11)">
<rect x="854" y="316" width="149" height="98" fill="#ffffff"/>
<polygon points="848.4,314.4 869.6,314.4 864.1,323.1 864.1,338.0 858.6,345.0 858.6,353.7 848.4,354.5" fill="#00d28c"/>
<polygon points="879.0,314.4 882.2,322.3 876.7,329.8 888.5,329.8 902.6,345.8 927.7,345.8 935.6,338.0 942.6,337.2 950.5,330.1 961.5,330.9 966.2,335.6 960.7,345.5 986.6,345.5 986.6,337.2 992.1,330.4 1002.3,330.4 1002.3,314.4" fill="#00d28c"/>
<polygon points="919.1,314.4 917.5,325.4 922.2,333.3 926.9,338.0 935.6,338.0 942.6,337.2 945.8,331.7 942.6,325.4 941.8,322.3 944.2,314.4" fill="#00c8c8"/>
<polygon points="977.2,314.4 980.3,319.5 1002.3,319.5 1002.3,314.4" fill="#00c8c8"/>
<polygon points="919.1,345.8 923.8,339.5 926.9,338.0 935.6,338.0 927.7,345.8" fill="#00c8c8"/>
<polygon points="986.6,336.4 988.1,331.7 992.1,330.4 1002.3,330.4 1002.3,323.8 991.3,327.0 986.6,329.3" fill="#00c8c8"/>
<polygon points="966.2,335.6 985.8,335.6 985.8,339.5 967.0,339.5" fill="#00dc00"/>
<polygon points="927.7,361.5 934.8,361.2 941.1,353.4 954.4,353.4 954.4,361.5" fill="#00c8c8"/>
<clipPath id="rt11c"><polygon points="848.4,314.4 869.6,314.4 864.1,323.1 864.1,338.0 858.6,345.0 858.6,353.7 848.4,354.5"/><polygon points="879.0,314.4 882.2,322.3 876.7,329.8 888.5,329.8 902.6,345.8 927.7,345.8 935.6,338.0 942.6,337.2 950.5,330.1 961.5,330.9 966.2,335.6 960.7,345.5 986.6,345.5 986.6,337.2 992.1,330.4 1002.3,330.4 1002.3,314.4"/><polygon points="919.1,314.4 917.5,325.4 922.2,333.3 926.9,338.0 935.6,338.0 942.6,337.2 945.8,331.7 942.6,325.4 941.8,322.3 944.2,314.4"/><polygon points="977.2,314.4 980.3,319.5 1002.3,319.5 1002.3,314.4"/><polygon points="919.1,345.8 923.8,339.5 926.9,338.0 935.6,338.0 927.7,345.8"/><polygon points="986.6,336.4 988.1,331.7 992.1,330.4 1002.3,330.4 1002.3,323.8 991.3,327.0 986.6,329.3"/><polygon points="966.2,335.6 985.8,335.6 985.8,339.5 967.0,339.5"/><polygon points="927.7,361.5 934.8,361.2 941.1,353.4 954.4,353.4 954.4,361.5"/></clipPath>
<g clip-path="url(#rt11c)" stroke="#1e90ff" stroke-opacity="0.38" stroke-width="0.8"><line x1="854" x2="1003" y1="321.5" y2="321.5"/><line x1="854" x2="1003" y1="369.4" y2="369.4"/><line x1="854" x2="1003" y1="393" y2="393"/></g>
</g>
<clipPath id="rt12"><rect x="553.75" y="413" width="151.25" height="94.75"/></clipPath>
<g clip-path="url(#rt12)">
<rect x="552.75" y="412" width="153.25" height="96.75" fill="#00c8c8"/>
<polygon points="551.6,410.4 570.4,410.4 564.1,415.1 557.8,419.1 551.6,421.4" fill="#00a0ff"/>
<polygon points="650.5,410.4 645.8,415.1 641.1,417.5 641.8,423.0 645.8,427.7 656.8,428.5 666.2,428.5 674.0,432.4 670.9,435.5 663.0,437.1 656.8,441.0 653.6,447.3 645.8,448.1 646.5,453.6 652.0,456.7 663.0,458.3 672.4,459.9 677.9,464.6 674.0,470.9 667.0,475.6 665.4,480.3 672.4,482.6 680.3,484.2 686.6,487.4 691.3,488.9 700.7,488.9 711.7,489.7 711.7,410.4" fill="#00a0ff"/>
<polygon points="683.4,508.5 688.1,503.1 694.4,500.7 707.0,499.6 711.7,498.3 711.7,509.3" fill="#00a0ff"/>
<polygon points="551.6,445.8 559.4,445.8 564.1,441.0 572.0,437.1 581.4,437.1 587.7,441.8 595.5,445.0 601.8,436.3 604.9,441.0 601.0,448.9 602.6,456.0 597.1,459.1 589.2,461.0 582.2,464.6 575.9,463.0 569.6,455.2 561.0,459.9 551.6,465.4" fill="#00a0ff"/>
<polygon points="575.1,479.5 581.4,477.1 589.2,477.9 595.5,481.9 600.2,480.3 606.5,484.2 613.6,487.4 619.1,494.4 626.9,492.1 634.8,496.8 635.6,503.8 628.5,503.1 620.6,498.3 612.8,495.2 601.8,493.6 595.5,490.5 587.7,488.9 581.4,484.2" fill="#00a0ff"/>
<polygon points="642.6,496.0 645.8,492.8 656.0,496.0 647.3,502.3" fill="#00a0ff"/>
<polygon points="599.9,503.8 601.5,500.7 603.4,503.8 601.5,505.9" fill="#00a0ff"/>
<polygon points="612.8,416.7 617.5,416.4 617.5,417.7 612.8,417.7" fill="#00a0ff"/>
<polygon points="628.5,508.5 637.9,506.2 647.3,507.1 651.3,509.3" fill="#00a0ff"/>
<polygon points="684.2,424.9 691.3,423.8 697.6,421.7 707.8,425.3 704.6,434.0 703.1,441.0 697.6,449.7 691.3,448.9 695.2,442.6 698.4,434.0 694.4,429.3 689.7,426.4" fill="#0a32ff"/>
<g stroke="#1e90ff" stroke-opacity="0.38" stroke-width="0.8"><line x1="552.75" x2="706" y1="416.7" y2="416.7"/><line x1="552.75" x2="706" y1="464.6" y2="464.6"/><line x1="552.75" x2="706" y1="488" y2="488"/></g>
<clipPath id="rt12b"><polygon points="684.2,424.9 691.3,423.8 697.6,421.7 707.8,425.3 704.6,434.0 703.1,441.0 697.6,449.7 691.3,448.9 695.2,442.6 698.4,434.0 694.4,429.3 689.7,426.4"/></clipPath>
<g clip-path="url(#rt12b)" stroke="#b4beff" stroke-opacity="0.55" stroke-width="0.8"><line x1="552.75" x2="706" y1="416.7" y2="416.7"/><line x1="552.75" x2="706" y1="464.6" y2="464.6"/><line x1="552.75" x2="706" y1="488" y2="488"/></g>
</g>
<clipPath id="rt13"><rect x="705" y="413" width="150" height="94.75"/></clipPath>
<g clip-path="url(#rt13)">
<rect x="704" y="412" width="152" height="96.75" fill="#00a0ff"/>
<polygon points="698.4,423.0 707.8,425.3 705.5,434.0 703.1,441.8 698.4,445.8" fill="#0a32ff"/>
<polygon points="740.5,432.4 743.2,431.2 745.5,432.4 743.2,433.7" fill="#0a32ff"/>
<polygon points="779.3,410.4 783.2,418.3 790.3,425.3 784.8,429.3 776.9,431.6 769.1,433.2 776.1,440.3 772.2,444.2 764.4,449.7 769.1,453.6 773.8,452.0 780.1,457.5 780.8,463.8 787.1,466.2 787.9,460.7 784.0,456.7 791.1,454.4 800.5,455.2 808.3,456.7 804.4,464.6 809.9,472.4 814.6,480.3 809.9,485.8 803.6,488.9 806.8,496.8 802.0,503.1 801.3,509.3 861.7,509.3 861.7,410.4" fill="#00c8c8"/>
<polygon points="798.9,441.0 800.5,433.2 806.8,432.4 802.0,438.7" fill="#00a0ff"/>
<polygon points="823.2,496.5 825.3,495.2 826.8,496.8 824.8,498.0" fill="#00a0ff"/>
<polygon points="718.8,456.7 723.5,452.0 731.4,448.1 740.8,447.3 745.5,449.7 747.1,462.2 751.8,470.9 748.7,473.2 740.8,469.3 731.4,467.7 723.5,465.4" fill="#00c8c8"/>
<polygon points="757.3,472.4 762.8,470.9 769.1,471.3 768.3,477.1 762.0,474.8" fill="#00c8c8"/>
<polygon points="698.4,489.7 706.3,488.9 711.0,489.7 715.7,485.8 726.7,482.6 737.7,483.4 748.7,485.8 754.9,484.2 762.8,483.4 769.1,481.1 773.8,479.5 775.4,481.9 772.2,488.9 781.6,491.3 790.3,494.4 794.2,497.6 789.5,499.9 781.6,498.3 776.9,503.1 774.6,508.5 767.5,508.5 762.8,501.5 754.9,495.2 748.7,492.8 742.4,495.2 736.1,498.3 723.5,499.1 715.7,498.3 706.3,499.9 698.4,500.7" fill="#00c8c8"/>
<polygon points="795.0,410.4 800.5,416.7 806.8,421.4 813.0,426.9 817.0,433.2 817.7,441.8 821.7,449.7 827.2,457.5 831.9,463.8 829.5,468.5 828.7,477.9 833.4,482.6 841.3,486.6 847.6,492.1 853.8,498.3 861.7,504.6 861.7,410.4" fill="#00d28c"/>
<polygon points="817.0,410.4 820.9,413.3 825.6,416.7 830.3,414.8 836.6,415.9 843.6,419.8 845.2,424.2 848.4,421.4 846.0,410.4" fill="#00dc00"/>
<polygon points="841.3,441.0 846.0,438.7 852.3,437.9 857.8,440.3 857.8,447.3 850.7,445.8 844.4,444.2" fill="#00dc00"/>
<polygon points="832.7,448.4 838.1,446.5 841.3,448.9 836.6,449.7" fill="#00dc00"/>
<polygon points="842.1,410.4 845.2,416.7 850.7,424.6 857.8,435.5 861.7,440.3 861.7,410.4" fill="#ffffff"/>
<g stroke="#1e90ff" stroke-opacity="0.38" stroke-width="0.8"><line x1="704" x2="856" y1="416.7" y2="416.7"/><line x1="704" x2="856" y1="464.6" y2="464.6"/><line x1="704" x2="856" y1="488" y2="488"/></g>
<clipPath id="rt13b"><polygon points="698.4,423.0 707.8,425.3 705.5,434.0 703.1,441.8 698.4,445.8"/><polygon points="740.5,432.4 743.2,431.2 745.5,432.4 743.2,433.7"/></clipPath>
<g clip-path="url(#rt13b)" stroke="#b4beff" stroke-opacity="0.55" stroke-width="0.8"><line x1="704" x2="856" y1="416.7" y2="416.7"/><line x1="704" x2="856" y1="464.6" y2="464.6"/><line x1="704" x2="856" y1="488" y2="488"/></g>
<polygon points="842.1,410.4 845.2,416.7 850.7,424.6 857.8,435.5 861.7,440.3 861.7,410.4" fill="#ffffff"/>
</g>
<clipPath id="rt14"><rect x="855" y="413" width="147" height="94.75"/></clipPath>
<g clip-path="url(#rt14)">
<rect x="854" y="412" width="149" height="96.75" fill="#ffffff"/>
<polygon points="848.4,430.1 857.8,441.8 864.1,448.1 864.1,456.7 871.2,464.6 883.8,464.6 890.0,472.1 896.3,472.1 902.6,479.8 915.1,479.8 922.2,488.5 966.2,488.5 973.2,479.8 998.4,479.8 1002.3,482.6 1002.3,509.3 848.4,509.3" fill="#00d28c"/>
<polygon points="848.4,437.9 854.7,439.5 857.8,442.6 857.5,448.1 848.4,445.8" fill="#00dc00"/>
<polygon points="863.8,481.1 868.8,477.1 875.1,477.9 880.6,481.9 883.8,487.4 878.3,489.7 870.4,489.7 864.9,487.4" fill="#00dc00"/>
<polygon points="898.7,488.9 903.4,487.0 908.1,488.1 915.1,484.2 919.9,485.8 923.8,489.7 917.5,494.4 908.9,498.7 902.6,496.0" fill="#00dc00"/>
<polygon points="944.2,488.9 965.4,488.9 960.7,496.8 953.6,492.1 947.3,490.5" fill="#00dc00"/>
<polygon points="945.0,504.6 948.1,503.8 948.6,507.4 945.4,507.4" fill="#00dc00"/>
<polygon points="848.4,493.6 854.7,497.6 861.0,502.3 865.7,506.2 863.3,509.3 848.4,509.3" fill="#00c8c8"/>
<clipPath id="rt14c"><polygon points="848.4,430.1 857.8,441.8 864.1,448.1 864.1,456.7 871.2,464.6 883.8,464.6 890.0,472.1 896.3,472.1 902.6,479.8 915.1,479.8 922.2,488.5 966.2,488.5 973.2,479.8 998.4,479.8 1002.3,482.6 1002.3,509.3 848.4,509.3"/><polygon points="848.4,437.9 854.7,439.5 857.8,442.6 857.5,448.1 848.4,445.8"/><polygon points="863.8,481.1 868.8,477.1 875.1,477.9 880.6,481.9 883.8,487.4 878.3,489.7 870.4,489.7 864.9,487.4"/><polygon points="898.7,488.9 903.4,487.0 908.1,488.1 915.1,484.2 919.9,485.8 923.8,489.7 917.5,494.4 908.9,498.7 902.6,496.0"/><polygon points="944.2,488.9 965.4,488.9 960.7,496.8 953.6,492.1 947.3,490.5"/><polygon points="945.0,504.6 948.1,503.8 948.6,507.4 945.4,507.4"/><polygon points="848.4,493.6 854.7,497.6 861.0,502.3 865.7,506.2 863.3,509.3 848.4,509.3"/></clipPath>
<g clip-path="url(#rt14c)" stroke="#1e90ff" stroke-opacity="0.38" stroke-width="0.8"><line x1="854" x2="1003" y1="416.7" y2="416.7"/><line x1="854" x2="1003" y1="464.6" y2="464.6"/><line x1="854" x2="1003" y1="488" y2="488"/></g>
</g>
</g>
<polyline points="350.8,313.0 347.6,317.0 338.0,328.8 308.3,366.5 306.7,375.0 297.3,422.4 339.0,472.0 392.4,513.5" fill="none" stroke="#1a1a1a" stroke-width="0.7"/>
<polyline points="350.8,313.0 357.0,317.0 403.4,341.8 478.0,326.0" fill="none" stroke="#1a1a1a" stroke-width="0.7"/>
<line x1="421.5" y1="338.0" x2="437.5" y2="334.6" stroke="#fff" stroke-width="1.4"/>
<line x1="421.5" y1="338.0" x2="437.5" y2="334.6" stroke="#8c8c8c" stroke-width="0.7"/>
<rect x="31" y="32" width="447.5" height="481.5" fill="none" stroke="#000" stroke-width="1.3"/>
<line x1="31.0" x2="31.0" y1="513.5" y2="516.0" stroke="#000" stroke-width="1"/>
<line x1="69.3" x2="69.3" y1="513.5" y2="516.0" stroke="#000" stroke-width="1"/>
<line x1="107.6" x2="107.6" y1="513.5" y2="516.0" stroke="#000" stroke-width="1"/>
<line x1="145.9" x2="145.9" y1="513.5" y2="516.0" stroke="#000" stroke-width="1"/>
<line x1="184.2" x2="184.2" y1="513.5" y2="516.0" stroke="#000" stroke-width="1"/>
<line x1="222.5" x2="222.5" y1="513.5" y2="516.0" stroke="#000" stroke-width="1"/>
<line x1="260.8" x2="260.8" y1="513.5" y2="516.0" stroke="#000" stroke-width="1"/>
<line x1="299.1" x2="299.1" y1="513.5" y2="516.0" stroke="#000" stroke-width="1"/>
<line x1="337.4" x2="337.4" y1="513.5" y2="516.0" stroke="#000" stroke-width="1"/>
<line x1="375.7" x2="375.7" y1="513.5" y2="516.0" stroke="#000" stroke-width="1"/>
<line x1="414.0" x2="414.0" y1="513.5" y2="516.0" stroke="#000" stroke-width="1"/>
<line x1="452.3" x2="452.3" y1="513.5" y2="516.0" stroke="#000" stroke-width="1"/>
<line x1="28" x2="31" y1="64.0" y2="64.0" stroke="#000" stroke-width="1"/>
<line x1="28" x2="31" y1="112.1" y2="112.1" stroke="#000" stroke-width="1"/>
<line x1="28" x2="31" y1="160.2" y2="160.2" stroke="#000" stroke-width="1"/>
<line x1="28" x2="31" y1="208.3" y2="208.3" stroke="#000" stroke-width="1"/>
<line x1="28" x2="31" y1="256.4" y2="256.4" stroke="#000" stroke-width="1"/>
<line x1="28" x2="31" y1="304.5" y2="304.5" stroke="#000" stroke-width="1"/>
<line x1="28" x2="31" y1="352.6" y2="352.6" stroke="#000" stroke-width="1"/>
<line x1="28" x2="31" y1="400.7" y2="400.7" stroke="#000" stroke-width="1"/>
<line x1="28" x2="31" y1="448.8" y2="448.8" stroke="#000" stroke-width="1"/>
<line x1="28" x2="31" y1="496.90000000000003" y2="496.90000000000003" stroke="#000" stroke-width="1"/>
<rect x="86.00" y="552.5" width="34.05" height="12" fill="#0a32ff"/>
<rect x="119.75" y="552.5" width="34.05" height="12" fill="#00a0ff"/>
<rect x="153.50" y="552.5" width="34.05" height="12" fill="#00c8c8"/>
<rect x="187.25" y="552.5" width="34.05" height="12" fill="#00d28c"/>
<rect x="221.00" y="552.5" width="34.05" height="12" fill="#00dc00"/>
<rect x="254.75" y="552.5" width="34.05" height="12" fill="#78e600"/>
<rect x="288.50" y="552.5" width="34.05" height="12" fill="#e6dc0a"/>
<rect x="322.25" y="552.5" width="34.05" height="12" fill="#f5af14"/>
<rect x="356.00" y="552.5" width="34.05" height="12" fill="#ff8219"/>
<rect x="389.75" y="552.5" width="34.05" height="12" fill="#fa3c3c"/>
<rect x="423.50" y="552.5" width="34.05" height="12" fill="#ff0082"/>
<polyline points="873.5,310.3 869.6,314.4 860.0,326.2 831.1,362.3 829.5,369.4 820.9,411.0 820.6,417.5 860.0,464.6 862.6,467.7 915.1,507.7" fill="none" stroke="#1a1a1a" stroke-width="0.7"/>
<polyline points="873.5,310.3 926.9,338.3 1001.5,323.0" fill="none" stroke="#1a1a1a" stroke-width="0.7"/>
<line x1="945.5" y1="334.5" x2="960.5" y2="331.4" stroke="#fff" stroke-width="1.4"/>
<line x1="945.5" y1="334.5" x2="960.5" y2="331.4" stroke="#8c8c8c" stroke-width="0.7"/>
<rect x="553.75" y="32.5" width="448.25" height="475.25" fill="none" stroke="#000" stroke-width="1.3"/>
<line x1="553.8" x2="553.8" y1="507.75" y2="510.25" stroke="#000" stroke-width="1"/>
<line x1="592.1" x2="592.1" y1="507.75" y2="510.25" stroke="#000" stroke-width="1"/>
<line x1="630.5" x2="630.5" y1="507.75" y2="510.25" stroke="#000" stroke-width="1"/>
<line x1="668.9" x2="668.9" y1="507.75" y2="510.25" stroke="#000" stroke-width="1"/>
<line x1="707.3" x2="707.3" y1="507.75" y2="510.25" stroke="#000" stroke-width="1"/>
<line x1="745.7" x2="745.7" y1="507.75" y2="510.25" stroke="#000" stroke-width="1"/>
<line x1="784.1" x2="784.1" y1="507.75" y2="510.25" stroke="#000" stroke-width="1"/>
<line x1="822.5" x2="822.5" y1="507.75" y2="510.25" stroke="#000" stroke-width="1"/>
<line x1="860.9" x2="860.9" y1="507.75" y2="510.25" stroke="#000" stroke-width="1"/>
<line x1="899.3" x2="899.3" y1="507.75" y2="510.25" stroke="#000" stroke-width="1"/>
<line x1="937.6" x2="937.6" y1="507.75" y2="510.25" stroke="#000" stroke-width="1"/>
<line x1="976.0" x2="976.0" y1="507.75" y2="510.25" stroke="#000" stroke-width="1"/>
<line x1="550.75" x2="553.75" y1="64.0" y2="64.0" stroke="#000" stroke-width="1"/>
<line x1="550.75" x2="553.75" y1="111.55" y2="111.55" stroke="#000" stroke-width="1"/>
<line x1="550.75" x2="553.75" y1="159.1" y2="159.1" stroke="#000" stroke-width="1"/>
<line x1="550.75" x2="553.75" y1="206.64999999999998" y2="206.64999999999998" stroke="#000" stroke-width="1"/>
<line x1="550.75" x2="553.75" y1="254.2" y2="254.2" stroke="#000" stroke-width="1"/>
<line x1="550.75" x2="553.75" y1="301.75" y2="301.75" stroke="#000" stroke-width="1"/>
<line x1="550.75" x2="553.75" y1="349.29999999999995" y2="349.29999999999995" stroke="#000" stroke-width="1"/>
<line x1="550.75" x2="553.75" y1="396.84999999999997" y2="396.84999999999997" stroke="#000" stroke-width="1"/>
<line x1="550.75" x2="553.75" y1="444.4" y2="444.4" stroke="#000" stroke-width="1"/>
<line x1="550.75" x2="553.75" y1="491.95" y2="491.95" stroke="#000" stroke-width="1"/>
<rect x="608.00" y="546.5" width="34.30" height="12" fill="#0a32ff"/>
<rect x="642.00" y="546.5" width="34.30" height="12" fill="#00a0ff"/>
<rect x="676.00" y="546.5" width="34.30" height="12" fill="#00c8c8"/>
<rect x="710.00" y="546.5" width="34.30" height="12" fill="#00d28c"/>
<rect x="744.00" y="546.5" width="34.30" height="12" fill="#00dc00"/>
<rect x="778.00" y="546.5" width="34.30" height="12" fill="#78e600"/>
<rect x="812.00" y="546.5" width="34.30" height="12" fill="#e6dc0a"/>
<rect x="846.00" y="546.5" width="34.30" height="12" fill="#f5af14"/>
<rect x="880.00" y="546.5" width="34.30" height="12" fill="#ff8219"/>
<rect x="914.00" y="546.5" width="34.30" height="12" fill="#fa3c3c"/>
<rect x="948.00" y="546.5" width="34.30" height="12" fill="#ff0082"/>
</svg>
<div class="title"><span style="left:54.43px;transform:scaleX(0.908)">Monthly</span> <span style="left:135.62px;transform:scaleX(0.938)">Night</span> <span style="left:195.50px;transform:scaleX(0.901)">Tskin</span><span style="left:238.69px;transform:scaleX(2.312)">--</span><span style="left:269.03px;transform:scaleX(0.984)">Beijing</span> <span style="left:342.64px;transform:scaleX(1.111)">(2012/07)</span></div>
<div class="xt" style="left:1.0px;top:515.5px">115.5E</div>
<div class="xt" style="left:39.3px;top:515.5px">115.8E</div>
<div class="xt" style="left:77.6px;top:515.5px">116.1E</div>
<div class="xt" style="left:115.9px;top:515.5px">116.4E</div>
<div class="xt" style="left:154.2px;top:515.5px">116.7E</div>
<div class="xt" style="left:192.5px;top:515.5px">117E</div>
<div class="xt" style="left:230.8px;top:515.5px">117.3E</div>
<div class="xt" style="left:269.1px;top:515.5px">117.6E</div>
<div class="xt" style="left:307.4px;top:515.5px">117.9E</div>
<div class="xt" style="left:345.7px;top:515.5px">118.2E</div>
<div class="xt" style="left:384.0px;top:515.5px">118.5E</div>
<div class="xt" style="left:422.3px;top:515.5px">118.8E</div>
<div class="yt" style="left:-35px;top:57.7px">40.8N</div>
<div class="yt" style="left:-35px;top:105.8px">40.5N</div>
<div class="yt" style="left:-35px;top:153.9px">40.2N</div>
<div class="yt" style="left:-35px;top:202.0px">39.9N</div>
<div class="yt" style="left:-35px;top:250.1px">39.6N</div>
<div class="yt" style="left:-35px;top:298.2px">39.3N</div>
<div class="yt" style="left:-35px;top:346.3px">39N</div>
<div class="yt" style="left:-35px;top:394.4px">38.7N</div>
<div class="yt" style="left:-35px;top:442.5px">38.4N</div>
<div class="yt" style="left:-35px;top:490.6px">38.1N</div>
<div class="bl" style="left:66.0px;top:565.8px">290</div>
<div class="bl" style="left:99.8px;top:565.8px">292</div>
<div class="bl" style="left:133.5px;top:565.8px">294</div>
<div class="bl" style="left:167.2px;top:565.8px">296</div>
<div class="bl" style="left:201.0px;top:565.8px">298</div>
<div class="bl" style="left:234.8px;top:565.8px">300</div>
<div class="bl" style="left:268.5px;top:565.8px">302</div>
<div class="bl" style="left:302.2px;top:565.8px">304</div>
<div class="bl" style="left:336.0px;top:565.8px">306</div>
<div class="bl" style="left:369.8px;top:565.8px">308</div>
<div class="bl" style="left:403.5px;top:565.8px">310</div>
<div class="cap" style="left:224px;top:591px"><span>(</span>c<span>)</span></div>
<div class="title"><span style="left:535.00px;transform:scaleX(0.850)">Aqua</span> <span style="left:589.40px;transform:scaleX(0.925)">Monthly</span> <span style="left:670.03px;transform:scaleX(0.986)">Nighttime</span> <span style="left:771.00px;transform:scaleX(0.901)">Tskin</span><span style="left:814.46px;transform:scaleX(2.292)">--</span><span style="left:845.54px;transform:scaleX(0.980)">Beijing</span> <span style="left:919.40px;transform:scaleX(1.100)">(2012/07)</span></div>
<div class="xt" style="left:523.8px;top:510.25px">115.5E</div>
<div class="xt" style="left:562.1px;top:510.25px">115.8E</div>
<div class="xt" style="left:600.5px;top:510.25px">116.1E</div>
<div class="xt" style="left:638.9px;top:510.25px">116.4E</div>
<div class="xt" style="left:677.3px;top:510.25px">116.7E</div>
<div class="xt" style="left:715.7px;top:510.25px">117E</div>
<div class="xt" style="left:754.1px;top:510.25px">117.3E</div>
<div class="xt" style="left:792.5px;top:510.25px">117.6E</div>
<div class="xt" style="left:830.9px;top:510.25px">117.9E</div>
<div class="xt" style="left:869.3px;top:510.25px">118.2E</div>
<div class="xt" style="left:907.6px;top:510.25px">118.5E</div>
<div class="xt" style="left:946.0px;top:510.25px">118.8E</div>
<div class="yt" style="left:487.75px;top:57.7px">40.8N</div>
<div class="yt" style="left:487.75px;top:105.2px">40.5N</div>
<div class="yt" style="left:487.75px;top:152.8px">40.2N</div>
<div class="yt" style="left:487.75px;top:200.3px">39.9N</div>
<div class="yt" style="left:487.75px;top:247.9px">39.6N</div>
<div class="yt" style="left:487.75px;top:295.4px">39.3N</div>
<div class="yt" style="left:487.75px;top:343.0px">39N</div>
<div class="yt" style="left:487.75px;top:390.5px">38.7N</div>
<div class="yt" style="left:487.75px;top:438.1px">38.4N</div>
<div class="yt" style="left:487.75px;top:485.6px">38.1N</div>
<div class="bl" style="left:588.0px;top:560.3px">290</div>
<div class="bl" style="left:622.0px;top:560.3px">292</div>
<div class="bl" style="left:656.0px;top:560.3px">294</div>
<div class="bl" style="left:690.0px;top:560.3px">296</div>
<div class="bl" style="left:724.0px;top:560.3px">298</div>
<div class="bl" style="left:758.0px;top:560.3px">300</div>
<div class="bl" style="left:792.0px;top:560.3px">302</div>
<div class="bl" style="left:826.0px;top:560.3px">304</div>
<div class="bl" style="left:860.0px;top:560.3px">306</div>
<div class="bl" style="left:894.0px;top:560.3px">308</div>
<div class="bl" style="left:928.0px;top:560.3px">310</div>
<div class="cap" style="left:752px;top:591px"><span>(</span>d<span>)</span></div>
</div></body></html>
